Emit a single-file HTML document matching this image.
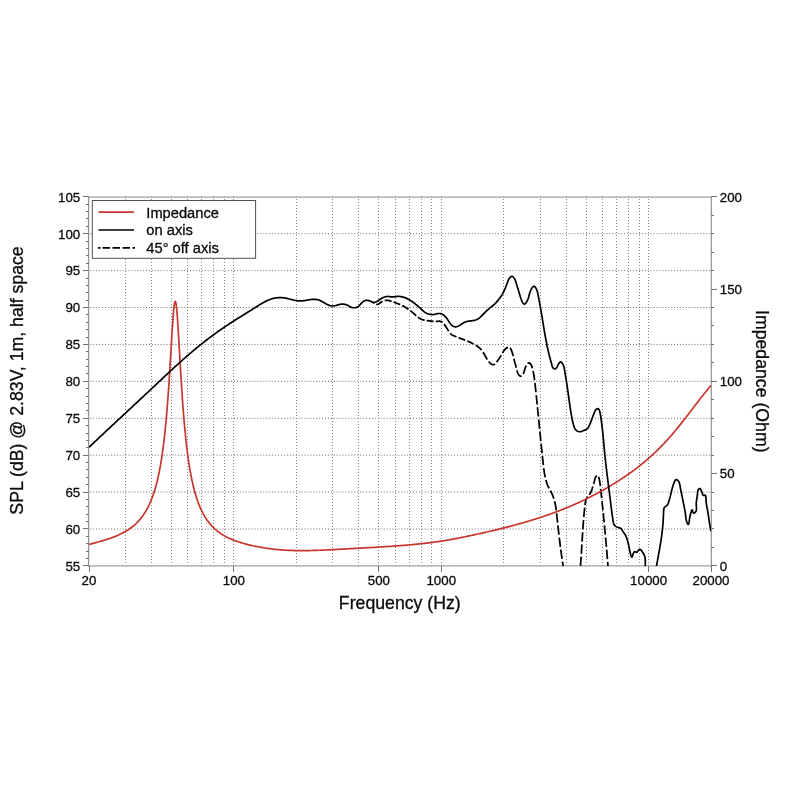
<!DOCTYPE html>
<html lang="en"><head><meta charset="utf-8"><title>Frequency response</title>
<style>html,body{margin:0;padding:0;background:#fff}body{width:800px;height:800px;overflow:hidden}svg{display:block}text{font-family:"Liberation Sans",sans-serif;fill:#0a0a0a;stroke:#0a0a0a;stroke-width:0.3px;stroke-linejoin:round}</style></head><body>
<svg width="800" height="800" viewBox="0 0 800 800">
<rect width="800" height="800" fill="#fff"/>
<defs><clipPath id="c"><rect x="89.0" y="196.8" width="622.0" height="369.10"/></clipPath></defs>
<g stroke="#8a8a8a" stroke-width="1" stroke-dasharray="1 2" fill="none">
<line x1="125.50" y1="196" x2="125.50" y2="565.9"/>
<line x1="151.50" y1="196" x2="151.50" y2="565.9"/>
<line x1="171.50" y1="196" x2="171.50" y2="565.9"/>
<line x1="187.50" y1="196" x2="187.50" y2="565.9"/>
<line x1="201.50" y1="196" x2="201.50" y2="565.9"/>
<line x1="213.50" y1="196" x2="213.50" y2="565.9"/>
<line x1="224.50" y1="196" x2="224.50" y2="565.9"/>
<line x1="233.50" y1="196" x2="233.50" y2="565.9"/>
<line x1="296.50" y1="196" x2="296.50" y2="565.9"/>
<line x1="332.50" y1="196" x2="332.50" y2="565.9"/>
<line x1="358.50" y1="196" x2="358.50" y2="565.9"/>
<line x1="378.50" y1="196" x2="378.50" y2="565.9"/>
<line x1="395.50" y1="196" x2="395.50" y2="565.9"/>
<line x1="409.50" y1="196" x2="409.50" y2="565.9"/>
<line x1="421.50" y1="196" x2="421.50" y2="565.9"/>
<line x1="431.50" y1="196" x2="431.50" y2="565.9"/>
<line x1="441.50" y1="196" x2="441.50" y2="565.9"/>
<line x1="503.50" y1="196" x2="503.50" y2="565.9"/>
<line x1="540.50" y1="196" x2="540.50" y2="565.9"/>
<line x1="566.50" y1="196" x2="566.50" y2="565.9"/>
<line x1="586.50" y1="196" x2="586.50" y2="565.9"/>
<line x1="602.50" y1="196" x2="602.50" y2="565.9"/>
<line x1="616.50" y1="196" x2="616.50" y2="565.9"/>
<line x1="628.50" y1="196" x2="628.50" y2="565.9"/>
<line x1="639.50" y1="196" x2="639.50" y2="565.9"/>
<line x1="648.50" y1="196" x2="648.50" y2="565.9"/>
<line x1="90.33" y1="528.99" x2="711.0" y2="528.99" stroke-dasharray="1 1.9333" stroke="#6c6c6c"/>
<line x1="90.33" y1="492.08" x2="711.0" y2="492.08" stroke-dasharray="1 1.9333" stroke="#6c6c6c"/>
<line x1="90.33" y1="455.17" x2="711.0" y2="455.17" stroke-dasharray="1 1.9333" stroke="#6c6c6c"/>
<line x1="90.33" y1="418.26" x2="711.0" y2="418.26" stroke-dasharray="1 1.9333" stroke="#6c6c6c"/>
<line x1="90.33" y1="381.35" x2="711.0" y2="381.35" stroke-dasharray="1 1.9333" stroke="#6c6c6c"/>
<line x1="90.33" y1="344.44" x2="711.0" y2="344.44" stroke-dasharray="1 1.9333" stroke="#6c6c6c"/>
<line x1="90.33" y1="307.53" x2="711.0" y2="307.53" stroke-dasharray="1 1.9333" stroke="#6c6c6c"/>
<line x1="90.33" y1="270.62" x2="711.0" y2="270.62" stroke-dasharray="1 1.9333" stroke="#6c6c6c"/>
<line x1="90.33" y1="233.71" x2="711.0" y2="233.71" stroke-dasharray="1 1.9333" stroke="#6c6c6c"/>
</g>
<g fill="none" stroke-width="1.0">
<line x1="88.7" y1="196.5" x2="88.7" y2="566.5500000000001" stroke="#7c7c80"/>
<line x1="711.25" y1="196.5" x2="711.25" y2="566.5500000000001" stroke="#7c7c80"/>
<line x1="88.2" y1="197.1" x2="711.75" y2="197.1" stroke="#a2a2a4" stroke-width="1.3"/>
<line x1="88.2" y1="565.95" x2="711.75" y2="565.95" stroke="#a2a2a4" stroke-width="1.3"/>
<g stroke-width="1" stroke="#707074">
<line x1="83.00" y1="565.50" x2="88.7" y2="565.50"/>
<line x1="86.00" y1="558.50" x2="88.7" y2="558.50"/>
<line x1="86.00" y1="551.50" x2="88.7" y2="551.50"/>
<line x1="86.00" y1="543.50" x2="88.7" y2="543.50"/>
<line x1="86.00" y1="536.50" x2="88.7" y2="536.50"/>
<line x1="83.00" y1="528.50" x2="88.7" y2="528.50"/>
<line x1="86.00" y1="521.50" x2="88.7" y2="521.50"/>
<line x1="86.00" y1="514.50" x2="88.7" y2="514.50"/>
<line x1="86.00" y1="506.50" x2="88.7" y2="506.50"/>
<line x1="86.00" y1="499.50" x2="88.7" y2="499.50"/>
<line x1="83.00" y1="492.50" x2="88.7" y2="492.50"/>
<line x1="86.00" y1="484.50" x2="88.7" y2="484.50"/>
<line x1="86.00" y1="477.50" x2="88.7" y2="477.50"/>
<line x1="86.00" y1="469.50" x2="88.7" y2="469.50"/>
<line x1="86.00" y1="462.50" x2="88.7" y2="462.50"/>
<line x1="83.00" y1="455.50" x2="88.7" y2="455.50"/>
<line x1="86.00" y1="447.50" x2="88.7" y2="447.50"/>
<line x1="86.00" y1="440.50" x2="88.7" y2="440.50"/>
<line x1="86.00" y1="433.50" x2="88.7" y2="433.50"/>
<line x1="86.00" y1="425.50" x2="88.7" y2="425.50"/>
<line x1="83.00" y1="418.50" x2="88.7" y2="418.50"/>
<line x1="86.00" y1="410.50" x2="88.7" y2="410.50"/>
<line x1="86.00" y1="403.50" x2="88.7" y2="403.50"/>
<line x1="86.00" y1="396.50" x2="88.7" y2="396.50"/>
<line x1="86.00" y1="388.50" x2="88.7" y2="388.50"/>
<line x1="83.00" y1="381.50" x2="88.7" y2="381.50"/>
<line x1="86.00" y1="373.50" x2="88.7" y2="373.50"/>
<line x1="86.00" y1="366.50" x2="88.7" y2="366.50"/>
<line x1="86.00" y1="359.50" x2="88.7" y2="359.50"/>
<line x1="86.00" y1="351.50" x2="88.7" y2="351.50"/>
<line x1="83.00" y1="344.50" x2="88.7" y2="344.50"/>
<line x1="86.00" y1="337.50" x2="88.7" y2="337.50"/>
<line x1="86.00" y1="329.50" x2="88.7" y2="329.50"/>
<line x1="86.00" y1="322.50" x2="88.7" y2="322.50"/>
<line x1="86.00" y1="314.50" x2="88.7" y2="314.50"/>
<line x1="83.00" y1="307.50" x2="88.7" y2="307.50"/>
<line x1="86.00" y1="300.50" x2="88.7" y2="300.50"/>
<line x1="86.00" y1="292.50" x2="88.7" y2="292.50"/>
<line x1="86.00" y1="285.50" x2="88.7" y2="285.50"/>
<line x1="86.00" y1="278.50" x2="88.7" y2="278.50"/>
<line x1="83.00" y1="270.50" x2="88.7" y2="270.50"/>
<line x1="86.00" y1="263.50" x2="88.7" y2="263.50"/>
<line x1="86.00" y1="255.50" x2="88.7" y2="255.50"/>
<line x1="86.00" y1="248.50" x2="88.7" y2="248.50"/>
<line x1="86.00" y1="241.50" x2="88.7" y2="241.50"/>
<line x1="83.00" y1="233.50" x2="88.7" y2="233.50"/>
<line x1="86.00" y1="226.50" x2="88.7" y2="226.50"/>
<line x1="86.00" y1="218.50" x2="88.7" y2="218.50"/>
<line x1="86.00" y1="211.50" x2="88.7" y2="211.50"/>
<line x1="86.00" y1="204.50" x2="88.7" y2="204.50"/>
<line x1="83.00" y1="196.50" x2="88.7" y2="196.50"/>
<line x1="711.25" y1="565.50" x2="716.95" y2="565.50"/>
<line x1="711.25" y1="547.50" x2="713.95" y2="547.50"/>
<line x1="711.25" y1="528.50" x2="713.95" y2="528.50"/>
<line x1="711.25" y1="510.50" x2="713.95" y2="510.50"/>
<line x1="711.25" y1="492.50" x2="713.95" y2="492.50"/>
<line x1="711.25" y1="473.50" x2="716.95" y2="473.50"/>
<line x1="711.25" y1="455.50" x2="713.95" y2="455.50"/>
<line x1="711.25" y1="436.50" x2="713.95" y2="436.50"/>
<line x1="711.25" y1="418.50" x2="713.95" y2="418.50"/>
<line x1="711.25" y1="399.50" x2="713.95" y2="399.50"/>
<line x1="711.25" y1="381.50" x2="716.95" y2="381.50"/>
<line x1="711.25" y1="362.50" x2="713.95" y2="362.50"/>
<line x1="711.25" y1="344.50" x2="713.95" y2="344.50"/>
<line x1="711.25" y1="325.50" x2="713.95" y2="325.50"/>
<line x1="711.25" y1="307.50" x2="713.95" y2="307.50"/>
<line x1="711.25" y1="289.50" x2="716.95" y2="289.50"/>
<line x1="711.25" y1="270.50" x2="713.95" y2="270.50"/>
<line x1="711.25" y1="252.50" x2="713.95" y2="252.50"/>
<line x1="711.25" y1="233.50" x2="713.95" y2="233.50"/>
<line x1="711.25" y1="215.50" x2="713.95" y2="215.50"/>
<line x1="711.25" y1="196.50" x2="716.95" y2="196.50"/>
<line x1="89.50" y1="565.95" x2="89.50" y2="571.95"/>
<line x1="233.50" y1="565.95" x2="233.50" y2="571.95"/>
<line x1="378.50" y1="565.95" x2="378.50" y2="571.95"/>
<line x1="441.50" y1="565.95" x2="441.50" y2="571.95"/>
<line x1="648.50" y1="565.95" x2="648.50" y2="571.95"/>
<line x1="711.50" y1="565.95" x2="711.50" y2="571.95"/>
</g></g>
<g clip-path="url(#c)" fill="none" stroke-linejoin="round">
<path d="M373.10,302.50 L373.40,302.72 L373.75,302.96 L374.12,303.21 L374.25,303.30 M376.29,304.26 L376.73,304.36 L377.17,304.40 L377.60,304.37 L378.00,304.27 L378.39,304.11 L378.77,303.89 L379.14,303.63 L379.50,303.35 L379.87,303.05 L380.23,302.75 L380.60,302.45 L380.99,302.17 L381.37,301.91 L381.77,301.67 L382.18,301.44 L382.59,301.24 L382.59,301.24 M384.71,300.51 L385.14,300.43 L385.58,300.36 L386.02,300.32 L386.46,300.30 L386.89,300.31 L387.33,300.33 L387.77,300.37 L388.20,300.43 L388.64,300.51 L389.08,300.60 L389.51,300.70 L389.95,300.81 L390.39,300.94 L390.82,301.07 L391.25,301.22 L391.54,301.32 M393.56,302.05 L393.99,302.21 L394.42,302.37 L394.85,302.53 L395.28,302.69 L395.70,302.85 L396.13,303.00 L396.55,303.16 L396.98,303.32 L397.40,303.48 L397.82,303.64 L398.24,303.80 L398.66,303.97 L399.07,304.13 L399.49,304.30 L399.90,304.47 L400.17,304.59 M402.20,305.50 L402.60,305.70 L403.00,305.90 L403.40,306.11 L403.79,306.32 L404.18,306.53 L404.57,306.75 L404.95,306.98 L405.34,307.20 L405.72,307.44 L406.10,307.67 L406.48,307.91 L406.86,308.16 L407.23,308.40 L407.60,308.65 L407.97,308.91 L408.34,309.17 L408.59,309.34 M410.39,310.69 L410.75,310.97 L411.10,311.26 L411.45,311.54 L411.80,311.83 L412.15,312.12 L412.50,312.41 L412.85,312.71 L413.19,313.00 L413.53,313.30 L413.87,313.60 L414.21,313.91 L414.55,314.21 L414.88,314.51 L415.22,314.82 L415.56,315.12 L415.90,315.42 L416.24,315.72 L416.24,315.72 M417.96,317.14 L418.32,317.41 L418.68,317.67 L419.04,317.92 L419.41,318.16 L419.79,318.39 L420.17,318.61 L420.56,318.82 L420.95,319.02 L421.35,319.20 L421.76,319.37 L422.18,319.53 L422.60,319.67 L423.03,319.81 L423.46,319.93 L423.90,320.05 L424.34,320.15 L424.64,320.22 M426.61,320.57 L427.06,320.63 L427.52,320.69 L427.98,320.74 L428.44,320.80 L428.90,320.85 L429.35,320.89 L429.81,320.94 L430.26,320.98 L430.71,321.03 L431.15,321.08 L431.60,321.12 L432.04,321.17 L432.47,321.22 L432.91,321.26 L433.34,321.30 L433.63,321.33 M435.69,321.40 L436.15,321.39 L436.61,321.36 L437.08,321.32 L437.55,321.28 L438.02,321.25 L438.49,321.22 L438.95,321.22 L439.40,321.23 L439.85,321.27 L440.27,321.35 L440.69,321.47 L441.09,321.62 L441.48,321.81 L441.85,322.02 L442.21,322.26 L442.44,322.44 M444.04,324.04 L444.33,324.41 L444.61,324.78 L444.89,325.17 L445.15,325.56 L445.41,325.95 L445.66,326.34 L445.91,326.72 L446.15,327.11 L446.38,327.49 L446.62,327.88 L446.85,328.26 L447.08,328.64 L447.31,329.02 L447.54,329.39 L447.77,329.77 L448.01,330.14 L448.25,330.52 L448.49,330.89 L448.66,331.14 M450.23,333.18 L450.54,333.51 L450.86,333.83 L451.19,334.14 L451.53,334.43 L451.89,334.70 L452.26,334.95 L452.64,335.18 L453.03,335.39 L453.43,335.59 L453.84,335.78 L454.25,335.96 L454.66,336.13 L455.08,336.30 L455.50,336.47 L455.92,336.64 L456.34,336.80 L456.48,336.86 M458.58,337.67 L459.00,337.83 L459.43,337.99 L459.85,338.15 L460.27,338.31 L460.69,338.47 L461.11,338.62 L461.54,338.78 L461.96,338.94 L462.38,339.10 L462.80,339.26 L463.22,339.42 L463.64,339.58 L464.06,339.74 L464.48,339.91 L464.90,340.07 L465.18,340.18 M467.27,341.02 L467.68,341.20 L468.10,341.37 L468.51,341.55 L468.92,341.73 L469.33,341.91 L469.74,342.09 L470.15,342.28 L470.56,342.47 L470.96,342.66 L471.37,342.86 L471.77,343.05 L472.17,343.25 L472.57,343.46 L472.97,343.67 L473.37,343.88 L473.76,344.09 L473.76,344.09 M475.72,345.22 L476.10,345.45 L476.48,345.70 L476.86,345.94 L477.23,346.20 L477.60,346.45 L477.97,346.72 L478.33,346.99 L478.68,347.26 L479.03,347.55 L479.37,347.83 L479.71,348.13 L480.04,348.43 L480.36,348.74 L480.67,349.06 L480.98,349.39 L481.28,349.72 L481.56,350.06 L481.56,350.06 M483.03,352.15 L483.26,352.54 L483.49,352.94 L483.72,353.34 L483.94,353.73 L484.16,354.13 L484.38,354.53 L484.60,354.93 L484.82,355.33 L485.04,355.72 L485.27,356.11 L485.49,356.50 L485.72,356.89 L485.95,357.27 L486.19,357.65 L486.42,358.03 L486.66,358.40 L486.90,358.78 L487.14,359.15 L487.39,359.53 L487.39,359.53 M488.75,361.52 L489.02,361.89 L489.31,362.25 L489.60,362.59 L489.91,362.93 L490.24,363.25 L490.58,363.55 L490.95,363.83 L491.34,364.08 L491.76,364.31 L492.19,364.50 L492.62,364.64 L493.05,364.71 L493.47,364.71 L493.87,364.63 L494.26,364.46 L494.62,364.23 L494.97,363.95 L494.97,363.95 M496.53,362.12 L496.82,361.75 L497.10,361.37 L497.38,361.00 L497.65,360.63 L497.92,360.26 L498.18,359.90 L498.44,359.53 L498.70,359.17 L498.95,358.81 L499.19,358.44 L499.44,358.08 L499.68,357.72 L499.92,357.35 L500.15,356.99 L500.38,356.62 L500.62,356.25 L500.85,355.88 L501.08,355.50 L501.23,355.25 M502.53,353.04 L502.76,352.64 L503.00,352.23 L503.24,351.82 L503.48,351.42 L503.73,351.02 L503.99,350.62 L504.26,350.24 L504.53,349.87 L504.82,349.52 L505.12,349.18 L505.44,348.87 L505.77,348.57 L506.11,348.31 L506.48,348.07 L506.86,347.86 L507.26,347.68 L507.69,347.54 L507.98,347.47 M509.99,347.90 L510.30,348.22 L510.57,348.60 L510.83,349.01 L511.05,349.46 L511.26,349.91 L511.46,350.36 L511.64,350.81 L511.81,351.25 L511.96,351.69 L512.11,352.12 L512.25,352.56 L512.37,352.99 L512.50,353.42 L512.61,353.84 L512.72,354.27 L512.83,354.70 L512.94,355.12 L513.05,355.55 L513.16,355.97 L513.19,356.12 M513.86,358.69 L513.98,359.12 L514.09,359.55 L514.21,359.99 L514.32,360.42 L514.44,360.85 L514.55,361.29 L514.67,361.72 L514.79,362.16 L514.91,362.59 L515.02,363.03 L515.14,363.46 L515.26,363.90 L515.37,364.34 L515.49,364.77 L515.61,365.21 L515.73,365.65 L515.84,366.09 L515.96,366.52 L516.07,366.96 L516.19,367.40 L516.27,367.69 M516.95,370.33 L517.06,370.76 L517.17,371.20 L517.30,371.64 L517.43,372.07 L517.58,372.50 L517.74,372.92 L517.92,373.34 L518.12,373.75 L518.34,374.15 L518.59,374.54 L518.87,374.93 L519.18,375.29 L519.52,375.62 L519.87,375.89 L520.24,376.07 L520.63,376.14 L521.02,376.10 L521.41,375.94 L521.54,375.87 M523.20,374.05 L523.41,373.64 L523.60,373.22 L523.77,372.78 L523.91,372.34 L524.05,371.90 L524.18,371.46 L524.30,371.02 L524.41,370.58 L524.53,370.15 L524.65,369.73 L524.78,369.31 L524.91,368.89 L525.04,368.48 L525.19,368.06 L525.34,367.65 L525.50,367.23 L525.67,366.81 L525.85,366.39 L526.04,365.95 L526.18,365.66 M527.59,363.51 L527.93,363.25 L528.30,363.07 L528.70,362.98 L529.11,362.97 L529.51,363.06 L529.88,363.23 L530.21,363.49 L530.51,363.81 L530.78,364.18 L531.02,364.59 L531.25,365.03 L531.45,365.48 L531.64,365.93 L531.81,366.37 L531.98,366.82 L532.13,367.26 L532.27,367.70 L532.40,368.14 L532.44,368.29 M533.07,370.89 L533.16,371.33 L533.24,371.76 L533.33,372.20 L533.41,372.64 L533.49,373.07 L533.57,373.51 L533.65,373.95 L533.73,374.39 L533.80,374.83 L533.87,375.27 L533.95,375.71 L534.02,376.15 L534.08,376.59 L534.15,377.03 L534.22,377.48 L534.28,377.92 L534.35,378.36 L534.41,378.81 L534.47,379.25 L534.53,379.70 L534.59,380.14 L534.59,380.14 M534.92,382.82 L534.97,383.27 L535.02,383.72 L535.08,384.16 L535.13,384.61 L535.18,385.06 L535.23,385.51 L535.27,385.95 L535.32,386.40 L535.37,386.85 L535.42,387.30 L535.47,387.75 L535.52,388.20 L535.56,388.65 L535.61,389.09 L535.66,389.54 L535.71,389.99 L535.75,390.44 L535.80,390.89 L535.85,391.34 L535.89,391.78 L535.94,392.23 L535.94,392.23 M536.24,395.07 L536.28,395.52 L536.33,395.97 L536.37,396.42 L536.42,396.86 L536.47,397.31 L536.51,397.76 L536.56,398.21 L536.60,398.66 L536.65,399.10 L536.69,399.55 L536.74,400.00 L536.79,400.45 L536.83,400.90 L536.88,401.34 L536.92,401.79 L536.97,402.24 L537.01,402.69 L537.06,403.14 L537.10,403.58 L537.15,404.03 L537.19,404.48 L537.19,404.48 M537.46,407.17 L537.51,407.61 L537.55,408.06 L537.59,408.51 L537.64,408.96 L537.68,409.41 L537.73,409.85 L537.77,410.30 L537.82,410.75 L537.86,411.20 L537.91,411.64 L537.95,412.09 L537.99,412.54 L538.04,412.99 L538.08,413.43 L538.13,413.88 L538.17,414.33 L538.21,414.78 L538.26,415.23 L538.30,415.67 L538.35,416.12 L538.39,416.57 L538.39,416.57 M538.67,419.40 L538.71,419.85 L538.76,420.30 L538.80,420.74 L538.84,421.19 L538.89,421.64 L538.93,422.09 L538.98,422.54 L539.02,422.98 L539.06,423.43 L539.11,423.88 L539.15,424.32 L539.20,424.77 L539.24,425.22 L539.28,425.67 L539.33,426.11 L539.37,426.56 L539.42,427.01 L539.46,427.46 L539.50,427.90 L539.55,428.35 L539.59,428.80 L539.59,428.80 M539.86,431.48 L539.90,431.93 L539.95,432.38 L539.99,432.83 L540.04,433.27 L540.08,433.72 L540.12,434.17 L540.17,434.62 L540.21,435.06 L540.26,435.51 L540.30,435.96 L540.35,436.41 L540.39,436.85 L540.44,437.30 L540.48,437.75 L540.53,438.20 L540.57,438.64 L540.62,439.09 L540.66,439.54 L540.71,439.99 L540.75,440.43 L540.80,440.88 L540.81,441.03 M541.08,443.71 L541.13,444.16 L541.18,444.61 L541.22,445.06 L541.27,445.50 L541.31,445.95 L541.36,446.40 L541.40,446.85 L541.45,447.29 L541.50,447.74 L541.54,448.19 L541.59,448.64 L541.64,449.08 L541.68,449.53 L541.73,449.98 L541.78,450.43 L541.82,450.88 L541.87,451.32 L541.92,451.77 L541.96,452.22 L542.01,452.67 L542.06,453.11 L542.06,453.11 M542.34,455.80 L542.39,456.25 L542.44,456.69 L542.49,457.14 L542.54,457.59 L542.58,458.04 L542.63,458.49 L542.68,458.93 L542.73,459.38 L542.78,459.83 L542.83,460.28 L542.88,460.72 L542.93,461.17 L542.97,461.62 L543.02,462.07 L543.07,462.52 L543.12,462.96 L543.17,463.41 L543.22,463.86 L543.27,464.31 L543.32,464.75 L543.38,465.20 L543.38,465.20 M543.72,468.04 L543.78,468.48 L543.83,468.93 L543.89,469.37 L543.95,469.82 L544.02,470.27 L544.08,470.71 L544.15,471.16 L544.21,471.60 L544.28,472.05 L544.35,472.49 L544.43,472.93 L544.50,473.38 L544.58,473.82 L544.65,474.26 L544.74,474.70 L544.82,475.15 L544.90,475.59 L544.99,476.03 L545.08,476.47 L545.17,476.91 L545.27,477.35 L545.27,477.35 M545.90,479.97 L546.01,480.40 L546.13,480.84 L546.25,481.27 L546.38,481.70 L546.51,482.14 L546.64,482.56 L546.78,482.99 L546.93,483.42 L547.07,483.85 L547.23,484.27 L547.39,484.69 L547.55,485.11 L547.73,485.52 L547.90,485.94 L548.09,486.35 L548.28,486.75 L548.48,487.16 L548.68,487.56 L548.89,487.96 L549.10,488.36 L549.10,488.36 M550.33,490.61 L550.55,491.00 L550.77,491.40 L550.98,491.80 L551.19,492.20 L551.39,492.60 L551.59,493.00 L551.78,493.41 L551.97,493.82 L552.16,494.23 L552.34,494.64 L552.51,495.05 L552.69,495.47 L552.85,495.88 L553.01,496.30 L553.17,496.72 L553.33,497.14 L553.47,497.57 L553.62,497.99 L553.76,498.42 L553.85,498.70 M554.60,501.29 L554.71,501.73 L554.82,502.17 L554.92,502.60 L555.02,503.04 L555.12,503.48 L555.21,503.92 L555.30,504.36 L555.39,504.80 L555.47,505.24 L555.55,505.69 L555.63,506.13 L555.70,506.57 L555.78,507.02 L555.85,507.46 L555.91,507.91 L555.98,508.35 L556.04,508.80 L556.10,509.25 L556.16,509.69 L556.22,510.14 L556.26,510.44 M556.59,513.27 L556.64,513.72 L556.69,514.17 L556.74,514.62 L556.79,515.06 L556.84,515.51 L556.89,515.96 L556.93,516.41 L556.98,516.85 L557.03,517.30 L557.08,517.75 L557.13,518.20 L557.18,518.65 L557.22,519.09 L557.27,519.54 L557.32,519.99 L557.37,520.44 L557.42,520.88 L557.46,521.33 L557.51,521.78 L557.56,522.23 L557.61,522.67 L557.61,522.67 M557.89,525.36 L557.94,525.81 L557.99,526.25 L558.03,526.70 L558.08,527.15 L558.13,527.59 L558.18,528.04 L558.23,528.49 L558.27,528.94 L558.32,529.38 L558.37,529.83 L558.42,530.28 L558.47,530.72 L558.52,531.17 L558.57,531.62 L558.62,532.06 L558.67,532.51 L558.72,532.96 L558.77,533.41 L558.82,533.85 L558.87,534.30 L558.92,534.75 L558.92,534.75 M559.25,537.58 L559.30,538.02 L559.36,538.47 L559.41,538.91 L559.47,539.36 L559.52,539.81 L559.57,540.25 L559.63,540.70 L559.68,541.15 L559.74,541.59 L559.80,542.04 L559.85,542.49 L559.91,542.93 L559.96,543.38 L560.02,543.83 L560.08,544.27 L560.14,544.72 L560.19,545.16 L560.25,545.61 L560.31,546.06 L560.37,546.50 L560.43,546.95 L560.43,546.95 M560.78,549.62 L560.84,550.07 L560.90,550.52 L560.96,550.96 L561.03,551.41 L561.09,551.85 L561.15,552.30 L561.21,552.74 L561.27,553.19 L561.33,553.64 L561.40,554.08 L561.46,554.53 L561.52,554.97 L561.58,555.42 L561.65,555.86 L561.71,556.31 L561.77,556.76 L561.84,557.20 L561.90,557.65 L561.96,558.09 L562.03,558.54 L562.09,558.98 L562.09,558.98 M562.48,561.65 L562.55,562.10 L562.61,562.54 L562.68,562.99 L562.75,563.43 L562.81,563.88 L562.88,564.32 L562.95,564.77 L563.01,565.21 L563.08,565.66 L563.15,566.10 L563.21,566.55 L563.28,566.99 L563.35,567.44 L563.42,567.88 L563.48,568.33 L563.55,568.77 L563.62,569.22 L563.69,569.66 L563.76,570.11 L563.82,570.55 L563.89,571.00 L563.89,571.00 M564.31,573.66 L564.38,574.11 L564.45,574.55 L564.51,575.00 L564.51,575.00" stroke="#000" stroke-width="1.75"/>
<path d="M579.64,575.00 L579.69,574.55 L579.73,574.11 L579.78,573.66 L579.82,573.21 L579.87,572.76 L579.91,572.31 L579.95,571.86 L579.99,571.41 L580.04,570.96 L580.08,570.52 L580.12,570.07 L580.16,569.62 L580.20,569.17 L580.22,568.87 M580.45,566.18 L580.49,565.73 L580.52,565.28 L580.56,564.83 L580.59,564.38 L580.63,563.94 L580.66,563.49 L580.70,563.04 L580.73,562.59 L580.77,562.14 L580.80,561.69 L580.83,561.24 L580.86,560.80 L580.90,560.35 L580.93,559.90 L580.96,559.45 L580.99,559.00 L581.02,558.55 L581.05,558.11 L581.08,557.66 L581.11,557.21 L581.15,556.76 L581.16,556.61 M581.33,553.92 L581.36,553.47 L581.39,553.02 L581.42,552.58 L581.44,552.13 L581.47,551.68 L581.50,551.23 L581.53,550.78 L581.56,550.33 L581.58,549.89 L581.61,549.44 L581.64,548.99 L581.67,548.54 L581.69,548.09 L581.72,547.64 L581.75,547.19 L581.77,546.75 L581.80,546.30 L581.83,545.85 L581.85,545.40 L581.88,544.95 L581.91,544.50 L581.92,544.36 M582.07,541.67 L582.10,541.22 L582.13,540.77 L582.15,540.32 L582.18,539.87 L582.21,539.42 L582.23,538.97 L582.26,538.53 L582.29,538.08 L582.32,537.63 L582.34,537.18 L582.37,536.73 L582.40,536.28 L582.43,535.84 L582.45,535.39 L582.48,534.94 L582.51,534.49 L582.54,534.04 L582.56,533.59 L582.59,533.15 L582.62,532.70 L582.65,532.25 L582.65,532.25 M582.84,529.41 L582.87,528.96 L582.90,528.51 L582.93,528.06 L582.96,527.61 L582.99,527.17 L583.02,526.72 L583.05,526.27 L583.09,525.82 L583.12,525.37 L583.15,524.92 L583.19,524.47 L583.22,524.02 L583.25,523.58 L583.29,523.13 L583.32,522.68 L583.36,522.23 L583.39,521.78 L583.43,521.33 L583.46,520.88 L583.50,520.44 L583.54,519.99 L583.54,519.99 M583.78,517.14 L583.82,516.69 L583.86,516.25 L583.90,515.80 L583.94,515.35 L583.98,514.90 L584.02,514.45 L584.07,514.00 L584.11,513.55 L584.15,513.10 L584.20,512.65 L584.24,512.21 L584.29,511.76 L584.33,511.31 L584.38,510.86 L584.43,510.41 L584.47,509.96 L584.52,509.51 L584.57,509.06 L584.62,508.61 L584.67,508.16 L584.72,507.71 L584.72,507.71 M585.03,505.02 L585.09,504.57 L585.15,504.12 L585.20,503.67 L585.27,503.22 L585.34,502.78 L585.41,502.34 L585.50,501.90 L585.59,501.46 L585.69,501.03 L585.81,500.60 L585.94,500.18 L586.08,499.76 L586.23,499.35 L586.41,498.95 L586.60,498.55 L586.81,498.16 L587.04,497.77 L587.29,497.40 L587.55,497.03 L587.82,496.66 L587.82,496.66 M589.34,494.71 L589.61,494.34 L589.87,493.96 L590.12,493.58 L590.35,493.18 L590.57,492.78 L590.77,492.37 L590.96,491.96 L591.14,491.54 L591.31,491.12 L591.48,490.70 L591.63,490.27 L591.77,489.85 L591.91,489.42 L592.05,489.00 L592.18,488.57 L592.31,488.15 L592.44,487.74 L592.57,487.32 L592.69,486.92 L592.82,486.51 L592.82,486.51 M593.62,483.90 L593.75,483.47 L593.88,483.03 L594.00,482.58 L594.13,482.12 L594.26,481.64 L594.38,481.14 L594.51,480.63 L594.64,480.12 L594.77,479.60 L594.92,479.09 L595.07,478.59 L595.23,478.11 L595.41,477.65 L595.60,477.23 L595.81,476.85 L596.04,476.52 L596.30,476.23 L596.58,476.01 L596.88,475.86 L596.88,475.86 M598.56,476.93 L598.74,477.35 L598.89,477.81 L599.04,478.30 L599.17,478.82 L599.29,479.34 L599.40,479.86 L599.50,480.38 L599.60,480.88 L599.69,481.38 L599.78,481.87 L599.86,482.35 L599.93,482.82 L600.01,483.29 L600.07,483.75 L600.14,484.21 L600.20,484.66 L600.25,485.10 L600.31,485.54 L600.36,485.98 L600.37,486.13 M600.66,488.86 L600.71,489.29 L600.75,489.72 L600.79,490.16 L600.84,490.59 L600.88,491.02 L600.93,491.46 L600.97,491.89 L601.02,492.33 L601.07,492.77 L601.11,493.21 L601.16,493.64 L601.20,494.08 L601.25,494.52 L601.30,494.96 L601.34,495.40 L601.39,495.85 L601.44,496.29 L601.48,496.73 L601.53,497.17 L601.58,497.62 L601.62,498.06 L601.64,498.21 M601.94,501.03 L601.99,501.48 L602.04,501.93 L602.08,502.38 L602.13,502.83 L602.18,503.27 L602.23,503.72 L602.28,504.17 L602.32,504.62 L602.37,505.07 L602.42,505.52 L602.47,505.97 L602.51,506.42 L602.56,506.87 L602.61,507.32 L602.66,507.77 L602.71,508.22 L602.75,508.67 L602.80,509.12 L602.85,509.57 L602.89,510.03 L602.93,510.33 M603.22,513.18 L603.27,513.63 L603.32,514.08 L603.36,514.53 L603.41,514.98 L603.45,515.43 L603.50,515.88 L603.55,516.33 L603.59,516.78 L603.64,517.23 L603.68,517.68 L603.73,518.12 L603.77,518.57 L603.82,519.02 L603.86,519.47 L603.91,519.92 L603.95,520.37 L604.00,520.82 L604.04,521.27 L604.08,521.72 L604.13,522.16 L604.16,522.46 M604.43,525.30 L604.48,525.75 L604.52,526.20 L604.56,526.64 L604.61,527.09 L604.65,527.54 L604.69,527.99 L604.73,528.44 L604.78,528.88 L604.82,529.33 L604.86,529.78 L604.90,530.23 L604.94,530.67 L604.99,531.12 L605.03,531.57 L605.07,532.01 L605.11,532.46 L605.15,532.91 L605.19,533.36 L605.24,533.80 L605.28,534.25 L605.32,534.70 L605.32,534.70 M605.58,537.53 L605.62,537.98 L605.66,538.42 L605.70,538.87 L605.74,539.32 L605.78,539.76 L605.82,540.21 L605.86,540.66 L605.90,541.10 L605.94,541.55 L605.98,542.00 L606.02,542.44 L606.05,542.89 L606.09,543.34 L606.13,543.78 L606.17,544.23 L606.21,544.68 L606.25,545.12 L606.29,545.57 L606.33,546.02 L606.37,546.47 L606.41,546.91 L606.41,546.91 M606.64,549.59 L606.67,550.04 L606.71,550.49 L606.75,550.94 L606.79,551.38 L606.82,551.83 L606.86,552.28 L606.90,552.72 L606.94,553.17 L606.97,553.62 L607.01,554.07 L607.05,554.51 L607.09,554.96 L607.12,555.41 L607.16,555.86 L607.20,556.30 L607.23,556.75 L607.27,557.20 L607.31,557.65 L607.34,558.09 L607.38,558.54 L607.42,558.99 L607.43,559.14 M607.65,561.83 L607.68,562.28 L607.72,562.72 L607.75,563.17 L607.79,563.62 L607.83,564.07 L607.86,564.52 L607.90,564.97 L607.93,565.42 L607.97,565.87 L608.00,566.32 L608.04,566.76 L608.07,567.21 L608.11,567.66 L608.15,568.11 L608.18,568.56 L608.22,569.01 L608.25,569.46 L608.29,569.91 L608.32,570.36 L608.36,570.81 L608.39,571.26 L608.39,571.26 M608.61,574.11 L608.64,574.57 L608.68,575.02 L608.68,575.02" stroke="#000" stroke-width="1.75"/>
<path d="M89.00,544.49 L90.00,544.21 L91.00,543.94 L92.00,543.67 L93.00,543.40 L94.00,543.13 L95.00,542.86 L96.00,542.58 L97.00,542.30 L98.00,542.02 L99.00,541.74 L100.00,541.46 L101.00,541.17 L102.00,540.88 L103.00,540.58 L104.00,540.28 L105.00,539.98 L106.00,539.66 L107.00,539.35 L108.00,539.02 L109.00,538.69 L110.00,538.35 L111.00,538.00 L112.00,537.64 L113.00,537.27 L114.00,536.89 L115.00,536.50 L116.00,536.09 L117.00,535.67 L118.00,535.24 L119.00,534.80 L120.00,534.33 L121.00,533.85 L122.00,533.35 L123.00,532.84 L124.00,532.30 L125.00,531.74 L126.00,531.15 L127.00,530.54 L128.00,529.91 L129.00,529.24 L130.00,528.54 L131.00,527.81 L132.00,527.05 L133.00,526.25 L134.00,525.41 L135.00,524.52 L136.00,523.59 L137.00,522.61 L138.00,521.58 L139.00,520.49 L140.00,519.34 L141.00,518.13 L142.00,516.84 L143.00,515.47 L144.00,514.02 L145.00,512.47 L146.00,510.83 L147.00,509.07 L148.00,507.19 L149.00,505.17 L150.00,503.01 L150.10,502.78 L150.20,502.55 L150.30,502.33 L150.40,502.09 L150.50,501.86 L150.60,501.63 L150.70,501.39 L150.80,501.16 L150.90,500.92 L151.00,500.68 L151.10,500.43 L151.20,500.19 L151.30,499.94 L151.40,499.69 L151.50,499.44 L151.60,499.19 L151.70,498.94 L151.80,498.68 L151.90,498.42 L152.00,498.16 L152.10,497.90 L152.20,497.63 L152.30,497.37 L152.40,497.10 L152.50,496.83 L152.60,496.55 L152.70,496.28 L152.80,496.00 L152.90,495.72 L153.00,495.44 L153.10,495.15 L153.20,494.87 L153.30,494.58 L153.40,494.29 L153.50,493.99 L153.60,493.70 L153.70,493.40 L153.80,493.10 L153.90,492.79 L154.00,492.49 L154.10,492.18 L154.20,491.87 L154.30,491.55 L154.40,491.23 L154.50,490.92 L154.60,490.59 L154.70,490.27 L154.80,489.94 L154.90,489.61 L155.00,489.27 L155.10,488.94 L155.20,488.60 L155.30,488.26 L155.40,487.91 L155.50,487.56 L155.60,487.21 L155.70,486.85 L155.80,486.50 L155.90,486.13 L156.00,485.77 L156.10,485.40 L156.20,485.03 L156.30,484.65 L156.40,484.28 L156.50,483.89 L156.60,483.51 L156.70,483.12 L156.80,482.73 L156.90,482.33 L157.00,481.93 L157.10,481.53 L157.20,481.12 L157.30,480.71 L157.40,480.29 L157.50,479.87 L157.60,479.45 L157.70,479.02 L157.80,478.59 L157.90,478.16 L158.00,477.72 L158.10,477.27 L158.20,476.82 L158.30,476.37 L158.40,475.91 L158.50,475.45 L158.60,474.98 L158.70,474.51 L158.80,474.03 L158.90,473.55 L159.00,473.07 L159.10,472.58 L159.20,472.08 L159.30,471.58 L159.40,471.07 L159.50,470.56 L159.60,470.04 L159.70,469.52 L159.80,468.99 L159.90,468.46 L160.00,467.92 L160.10,467.38 L160.20,466.83 L160.30,466.27 L160.40,465.71 L160.50,465.14 L160.60,464.57 L160.70,463.99 L160.80,463.40 L160.90,462.81 L161.00,462.21 L161.10,461.60 L161.20,460.99 L161.30,460.37 L161.40,459.74 L161.50,459.11 L161.60,458.47 L161.70,457.82 L161.80,457.17 L161.90,456.50 L162.00,455.84 L162.10,455.16 L162.20,454.47 L162.30,453.78 L162.40,453.08 L162.50,452.37 L162.60,451.65 L162.70,450.93 L162.80,450.19 L162.90,449.45 L163.00,448.70 L163.10,447.94 L163.20,447.17 L163.30,446.40 L163.40,445.61 L163.50,444.81 L163.60,444.01 L163.70,443.19 L163.80,442.37 L163.90,441.53 L164.00,440.69 L164.10,439.83 L164.20,438.97 L164.30,438.09 L164.40,437.21 L164.50,436.31 L164.60,435.40 L164.70,434.48 L164.80,433.55 L164.90,432.61 L165.00,431.66 L165.10,430.69 L165.20,429.72 L165.30,428.73 L165.40,427.73 L165.50,426.72 L165.60,425.69 L165.70,424.66 L165.80,423.61 L165.90,422.54 L166.00,421.47 L166.10,420.38 L166.20,419.28 L166.30,418.16 L166.40,417.04 L166.50,415.89 L166.60,414.74 L166.70,413.57 L166.80,412.38 L166.90,411.18 L167.00,409.97 L167.10,408.75 L167.20,407.50 L167.30,406.25 L167.40,404.98 L167.50,403.69 L167.60,402.39 L167.70,401.08 L167.80,399.75 L167.90,398.40 L168.00,397.04 L168.10,395.67 L168.20,394.28 L168.30,392.88 L168.40,391.46 L168.50,390.02 L168.60,388.57 L168.70,387.11 L168.80,385.63 L168.90,384.14 L169.00,382.64 L169.10,381.12 L169.20,379.58 L169.30,378.04 L169.40,376.48 L169.50,374.90 L169.60,373.32 L169.70,371.72 L169.80,370.11 L169.90,368.49 L170.00,366.86 L170.10,365.22 L170.20,363.57 L170.30,361.92 L170.40,360.25 L170.50,358.58 L170.60,356.90 L170.70,355.22 L170.80,353.53 L170.90,351.84 L171.00,350.15 L171.10,348.46 L171.20,346.76 L171.30,345.07 L171.40,343.39 L171.50,341.70 L171.60,340.03 L171.70,338.36 L171.80,336.70 L171.90,335.06 L172.00,333.43 L172.10,331.81 L172.20,330.21 L172.30,328.63 L172.40,327.07 L172.50,325.53 L172.60,324.03 L172.70,322.55 L172.80,321.10 L172.90,319.68 L173.00,318.30 L173.10,316.95 L173.20,315.65 L173.30,314.39 L173.40,313.17 L173.50,312.00 L173.60,310.89 L173.70,309.82 L173.80,308.81 L173.90,307.85 L174.00,306.96 L174.10,306.12 L174.20,305.35 L174.30,304.65 L174.40,304.00 L174.50,303.43 L174.60,302.93 L174.70,302.50 L174.80,302.14 L174.90,301.85 L175.00,301.64 L175.10,301.50 L175.20,301.44 L175.30,301.45 L175.40,301.54 L175.50,301.70 L175.60,301.94 L175.70,302.25 L175.80,302.64 L175.90,303.10 L176.00,303.62 L176.10,304.22 L176.20,304.89 L176.30,305.63 L176.40,306.43 L176.50,307.30 L176.60,308.23 L176.70,309.21 L176.80,310.26 L176.90,311.36 L177.00,312.52 L177.10,313.72 L177.20,314.98 L177.30,316.28 L177.40,317.62 L177.50,319.01 L177.60,320.43 L177.70,321.90 L177.80,323.39 L177.90,324.92 L178.00,326.47 L178.10,328.06 L178.20,329.67 L178.30,331.29 L178.40,332.94 L178.50,334.61 L178.60,336.30 L178.70,337.99 L178.80,339.70 L178.90,341.42 L179.00,343.15 L179.10,344.89 L179.20,346.63 L179.30,348.37 L179.40,350.12 L179.50,351.86 L179.60,353.61 L179.70,355.35 L179.80,357.09 L179.90,358.83 L180.00,360.56 L180.10,362.28 L180.20,364.00 L180.30,365.71 L180.40,367.41 L180.50,369.10 L180.60,370.78 L180.70,372.45 L180.80,374.11 L180.90,375.76 L181.00,377.39 L181.10,379.01 L181.20,380.62 L181.30,382.21 L181.40,383.79 L181.50,385.36 L181.60,386.91 L181.70,388.45 L181.80,389.97 L181.90,391.48 L182.00,392.97 L182.10,394.44 L182.20,395.90 L182.30,397.35 L182.40,398.78 L182.50,400.19 L182.60,401.59 L182.70,402.98 L182.80,404.34 L182.90,405.70 L183.00,407.03 L183.10,408.35 L183.20,409.66 L183.30,410.95 L183.40,412.23 L183.50,413.49 L183.60,414.73 L183.70,415.96 L183.80,417.18 L183.90,418.38 L184.00,419.57 L184.10,420.74 L184.20,421.90 L184.30,423.04 L184.40,424.17 L184.50,425.29 L184.60,426.39 L184.70,427.48 L184.80,428.56 L184.90,429.62 L185.00,430.67 L185.10,431.71 L185.20,432.74 L185.30,433.75 L185.40,434.75 L185.50,435.74 L185.60,436.71 L185.70,437.68 L185.80,438.63 L185.90,439.57 L186.00,440.50 L186.10,441.42 L186.20,442.32 L186.30,443.22 L186.40,444.10 L186.50,444.98 L186.60,445.84 L186.70,446.69 L186.80,447.54 L186.90,448.37 L187.00,449.19 L187.10,450.01 L187.20,450.81 L187.30,451.61 L187.40,452.39 L187.50,453.17 L187.60,453.93 L187.70,454.69 L187.80,455.44 L187.90,456.18 L188.00,456.91 L188.10,457.64 L188.20,458.35 L188.30,459.06 L188.40,459.76 L188.50,460.45 L188.60,461.13 L188.70,461.81 L188.80,462.47 L188.90,463.13 L189.00,463.79 L189.10,464.43 L189.20,465.07 L189.30,465.70 L189.40,466.33 L189.50,466.94 L189.60,467.55 L189.70,468.16 L189.80,468.76 L189.90,469.35 L190.00,469.93 L190.10,470.51 L190.20,471.08 L190.30,471.65 L190.40,472.21 L190.50,472.76 L190.60,473.31 L190.70,473.85 L190.80,474.39 L190.90,474.92 L191.00,475.44 L191.10,475.96 L191.20,476.48 L191.30,476.99 L191.40,477.49 L191.50,477.99 L191.60,478.48 L191.70,478.97 L191.80,479.45 L191.90,479.93 L192.00,480.41 L192.10,480.88 L192.20,481.34 L192.30,481.80 L192.40,482.26 L192.50,482.71 L192.60,483.15 L192.70,483.59 L192.80,484.03 L192.90,484.47 L193.00,484.89 L193.10,485.32 L193.20,485.74 L193.30,486.16 L193.40,486.57 L193.50,486.98 L193.60,487.38 L193.70,487.79 L193.80,488.18 L193.90,488.58 L194.00,488.97 L194.10,489.35 L194.20,489.74 L194.30,490.12 L194.40,490.49 L194.50,490.86 L194.60,491.23 L194.70,491.60 L194.80,491.96 L194.90,492.32 L195.00,492.68 L195.10,493.03 L195.20,493.38 L195.30,493.72 L195.40,494.07 L195.50,494.41 L195.60,494.74 L195.70,495.08 L195.80,495.41 L195.90,495.74 L196.00,496.06 L196.10,496.39 L196.20,496.71 L196.30,497.02 L196.40,497.34 L196.50,497.65 L196.60,497.96 L196.70,498.26 L196.80,498.57 L196.90,498.87 L197.00,499.17 L197.10,499.46 L197.20,499.76 L197.30,500.05 L197.40,500.34 L197.50,500.62 L197.60,500.91 L197.70,501.19 L197.80,501.47 L197.90,501.75 L198.00,502.02 L198.10,502.29 L198.20,502.56 L198.30,502.83 L198.40,503.10 L198.50,503.36 L198.60,503.62 L198.70,503.88 L198.80,504.14 L198.90,504.40 L199.00,504.65 L199.10,504.90 L199.20,505.15 L199.30,505.40 L199.40,505.64 L199.50,505.89 L199.60,506.13 L199.70,506.37 L199.80,506.61 L199.90,506.84 L200.00,507.08 L201.00,509.33 L202.00,511.42 L203.00,513.36 L204.00,515.17 L205.00,516.86 L206.00,518.44 L207.00,519.92 L208.00,521.32 L209.00,522.62 L210.00,523.85 L211.00,525.01 L212.00,526.11 L213.00,527.14 L214.00,528.12 L215.00,529.05 L216.00,529.93 L217.00,530.76 L218.00,531.55 L219.00,532.31 L220.00,533.02 L221.00,533.71 L222.00,534.36 L223.00,534.98 L224.00,535.57 L225.00,536.14 L226.00,536.68 L227.00,537.20 L228.00,537.70 L229.00,538.17 L230.00,538.63 L231.00,539.07 L232.00,539.49 L233.00,539.90 L234.00,540.29 L235.00,540.67 L236.00,541.03 L237.00,541.38 L238.00,541.72 L239.00,542.05 L240.00,542.36 L241.00,542.67 L242.00,542.97 L243.00,543.26 L244.00,543.54 L245.00,543.81 L246.00,544.08 L247.00,544.34 L248.00,544.59 L249.00,544.83 L250.00,545.07 L251.00,545.31 L252.00,545.54 L253.00,545.76 L254.00,545.97 L255.00,546.18 L256.00,546.39 L257.00,546.59 L258.00,546.78 L259.00,546.97 L260.00,547.16 L261.00,547.33 L262.00,547.51 L263.00,547.68 L264.00,547.84 L265.00,548.00 L266.00,548.15 L267.00,548.30 L268.00,548.45 L269.00,548.59 L270.00,548.72 L271.00,548.85 L272.00,548.98 L273.00,549.10 L274.00,549.21 L275.00,549.32 L276.00,549.43 L277.00,549.53 L278.00,549.62 L279.00,549.72 L280.00,549.80 L281.00,549.88 L282.00,549.96 L283.00,550.03 L284.00,550.09 L285.00,550.16 L286.00,550.21 L287.00,550.27 L288.00,550.32 L289.00,550.36 L290.00,550.40 L291.00,550.44 L292.00,550.47 L293.00,550.50 L294.00,550.53 L295.00,550.55 L296.00,550.57 L297.00,550.58 L298.00,550.60 L299.00,550.60 L300.00,550.61 L301.00,550.61 L302.00,550.62 L303.00,550.61 L304.00,550.61 L305.00,550.60 L306.00,550.59 L307.00,550.58 L308.00,550.56 L309.00,550.55 L310.00,550.53 L311.00,550.51 L312.00,550.48 L313.00,550.46 L314.00,550.43 L315.00,550.40 L316.00,550.37 L317.00,550.34 L318.00,550.30 L319.00,550.27 L320.00,550.23 L321.00,550.19 L322.00,550.15 L323.00,550.11 L324.00,550.07 L325.00,550.02 L326.00,549.98 L327.00,549.93 L328.00,549.88 L329.00,549.84 L330.00,549.79 L331.00,549.74 L332.00,549.69 L333.00,549.63 L334.00,549.58 L335.00,549.53 L336.00,549.48 L337.00,549.42 L338.00,549.37 L339.00,549.31 L340.00,549.26 L341.00,549.20 L342.00,549.15 L343.00,549.09 L344.00,549.03 L345.00,548.98 L346.00,548.92 L347.00,548.86 L348.00,548.81 L349.00,548.75 L350.00,548.69 L351.00,548.64 L352.00,548.58 L353.00,548.53 L354.00,548.47 L355.00,548.41 L356.00,548.36 L357.00,548.30 L358.00,548.25 L359.00,548.19 L360.00,548.14 L361.00,548.08 L362.00,548.03 L363.00,547.97 L364.00,547.92 L365.00,547.87 L366.00,547.81 L367.00,547.75 L368.00,547.70 L369.00,547.64 L370.00,547.59 L371.00,547.53 L372.00,547.48 L373.00,547.42 L374.00,547.36 L375.00,547.31 L376.00,547.25 L377.00,547.19 L378.00,547.13 L379.00,547.07 L380.00,547.01 L381.00,546.95 L382.00,546.89 L383.00,546.83 L384.00,546.77 L385.00,546.71 L386.00,546.65 L387.00,546.58 L388.00,546.52 L389.00,546.45 L390.00,546.39 L391.00,546.32 L392.00,546.25 L393.00,546.18 L394.00,546.11 L395.00,546.04 L396.00,545.97 L397.00,545.90 L398.00,545.83 L399.00,545.75 L400.00,545.68 L401.00,545.60 L402.00,545.52 L403.00,545.44 L404.00,545.36 L405.00,545.28 L406.00,545.19 L407.00,545.11 L408.00,545.02 L409.00,544.93 L410.00,544.84 L411.00,544.75 L412.00,544.66 L413.00,544.57 L414.00,544.47 L415.00,544.37 L416.00,544.28 L417.00,544.17 L418.00,544.07 L419.00,543.97 L420.00,543.86 L421.00,543.75 L422.00,543.64 L423.00,543.53 L424.00,543.42 L425.00,543.30 L426.00,543.18 L427.00,543.06 L428.00,542.94 L429.00,542.82 L430.00,542.69 L431.00,542.56 L432.00,542.43 L433.00,542.30 L434.00,542.16 L435.00,542.03 L436.00,541.89 L437.00,541.74 L438.00,541.60 L439.00,541.45 L440.00,541.30 L441.00,541.15 L442.00,540.99 L443.00,540.83 L444.00,540.67 L445.00,540.51 L446.00,540.34 L447.00,540.17 L448.00,540.00 L449.00,539.83 L450.00,539.66 L451.00,539.48 L452.00,539.30 L453.00,539.12 L454.00,538.93 L455.00,538.75 L456.00,538.56 L457.00,538.37 L458.00,538.18 L459.00,537.98 L460.00,537.79 L461.00,537.59 L462.00,537.39 L463.00,537.19 L464.00,536.99 L465.00,536.78 L466.00,536.58 L467.00,536.37 L468.00,536.16 L469.00,535.95 L470.00,535.74 L471.00,535.52 L472.00,535.31 L473.00,535.09 L474.00,534.88 L475.00,534.66 L476.00,534.44 L477.00,534.22 L478.00,534.00 L479.00,533.77 L480.00,533.55 L481.00,533.33 L482.00,533.10 L483.00,532.87 L484.00,532.65 L485.00,532.42 L486.00,532.19 L487.00,531.96 L488.00,531.73 L489.00,531.50 L490.00,531.26 L491.00,531.03 L492.00,530.79 L493.00,530.56 L494.00,530.32 L495.00,530.08 L496.00,529.84 L497.00,529.60 L498.00,529.36 L499.00,529.11 L500.00,528.87 L501.00,528.62 L502.00,528.37 L503.00,528.12 L504.00,527.87 L505.00,527.62 L506.00,527.37 L507.00,527.11 L508.00,526.85 L509.00,526.59 L510.00,526.33 L511.00,526.07 L512.00,525.81 L513.00,525.54 L514.00,525.27 L515.00,525.00 L516.00,524.73 L517.00,524.46 L518.00,524.18 L519.00,523.91 L520.00,523.63 L521.00,523.35 L522.00,523.06 L523.00,522.78 L524.00,522.49 L525.00,522.20 L526.00,521.91 L527.00,521.61 L528.00,521.32 L529.00,521.02 L530.00,520.72 L531.00,520.41 L532.00,520.11 L533.00,519.80 L534.00,519.49 L535.00,519.17 L536.00,518.86 L537.00,518.54 L538.00,518.22 L539.00,517.89 L540.00,517.57 L541.00,517.24 L542.00,516.91 L543.00,516.57 L544.00,516.23 L545.00,515.89 L546.00,515.55 L547.00,515.21 L548.00,514.86 L549.00,514.50 L550.00,514.15 L551.00,513.79 L552.00,513.43 L553.00,513.07 L554.00,512.70 L555.00,512.33 L556.00,511.96 L557.00,511.58 L558.00,511.20 L559.00,510.82 L560.00,510.43 L561.00,510.04 L562.00,509.65 L563.00,509.25 L564.00,508.85 L565.00,508.44 L566.00,508.04 L567.00,507.63 L568.00,507.21 L569.00,506.79 L570.00,506.37 L571.00,505.95 L572.00,505.52 L573.00,505.08 L574.00,504.65 L575.00,504.21 L576.00,503.76 L577.00,503.31 L578.00,502.86 L579.00,502.40 L580.00,501.94 L581.00,501.48 L582.00,501.01 L583.00,500.54 L584.00,500.06 L585.00,499.58 L586.00,499.10 L587.00,498.61 L588.00,498.11 L589.00,497.61 L590.00,497.11 L591.00,496.61 L592.00,496.09 L593.00,495.58 L594.00,495.06 L595.00,494.53 L596.00,494.01 L597.00,493.47 L598.00,492.93 L599.00,492.39 L600.00,491.84 L601.00,491.29 L602.00,490.73 L603.00,490.17 L604.00,489.60 L605.00,489.03 L606.00,488.46 L607.00,487.88 L608.00,487.29 L609.00,486.70 L610.00,486.10 L611.00,485.50 L612.00,484.89 L613.00,484.28 L614.00,483.66 L615.00,483.04 L616.00,482.41 L617.00,481.78 L618.00,481.14 L619.00,480.50 L620.00,479.85 L621.00,479.20 L622.00,478.54 L623.00,477.87 L624.00,477.20 L625.00,476.52 L626.00,475.84 L627.00,475.15 L628.00,474.45 L629.00,473.75 L630.00,473.04 L631.00,472.32 L632.00,471.59 L633.00,470.86 L634.00,470.12 L635.00,469.37 L636.00,468.62 L637.00,467.85 L638.00,467.08 L639.00,466.30 L640.00,465.51 L641.00,464.71 L642.00,463.90 L643.00,463.08 L644.00,462.26 L645.00,461.42 L646.00,460.58 L647.00,459.72 L648.00,458.85 L649.00,457.98 L650.00,457.09 L651.00,456.19 L652.00,455.29 L653.00,454.37 L654.00,453.44 L655.00,452.50 L656.00,451.54 L657.00,450.58 L658.00,449.60 L659.00,448.61 L660.00,447.61 L661.00,446.60 L662.00,445.57 L663.00,444.54 L664.00,443.49 L665.00,442.42 L666.00,441.34 L667.00,440.25 L668.00,439.15 L669.00,438.03 L670.00,436.90 L671.00,435.75 L672.00,434.59 L673.00,433.42 L674.00,432.24 L675.00,431.04 L676.00,429.83 L677.00,428.61 L678.00,427.38 L679.00,426.14 L680.00,424.89 L681.00,423.64 L682.00,422.37 L683.00,421.10 L684.00,419.83 L685.00,418.54 L686.00,417.26 L687.00,415.96 L688.00,414.67 L689.00,413.37 L690.00,412.07 L691.00,410.76 L692.00,409.46 L693.00,408.15 L694.00,406.85 L695.00,405.54 L696.00,404.24 L697.00,402.94 L698.00,401.64 L699.00,400.34 L700.00,399.05 L701.00,397.76 L702.00,396.48 L703.00,395.20 L704.00,393.93 L705.00,392.67 L706.00,391.41 L707.00,390.16 L708.00,388.92 L709.00,387.69 L710.00,386.47 L711.00,385.26 L711.00,385.26" stroke="#c8372d" stroke-width="1.7"/>
<path d="M89.00,447.25 L89.51,446.77 L90.02,446.29 L90.53,445.81 L91.04,445.33 L91.55,444.85 L92.05,444.37 L92.56,443.89 L93.07,443.41 L93.58,442.92 L94.09,442.44 L94.60,441.96 L95.11,441.48 L95.62,441.00 L96.13,440.52 L96.64,440.04 L97.14,439.56 L97.65,439.08 L98.16,438.61 L98.67,438.13 L99.18,437.65 L99.69,437.17 L100.20,436.69 L100.71,436.21 L101.22,435.73 L101.74,435.25 L102.25,434.77 L102.76,434.29 L103.27,433.82 L103.78,433.34 L104.29,432.86 L104.80,432.38 L105.31,431.90 L105.82,431.42 L106.33,430.94 L106.84,430.47 L107.35,429.99 L107.87,429.51 L108.38,429.03 L108.89,428.56 L109.40,428.08 L109.91,427.60 L110.42,427.12 L110.94,426.64 L111.45,426.17 L111.96,425.69 L112.47,425.21 L112.98,424.73 L113.49,424.26 L114.01,423.78 L114.52,423.30 L115.03,422.83 L115.54,422.35 L116.05,421.87 L116.57,421.39 L117.08,420.92 L117.59,420.44 L118.10,419.96 L118.61,419.49 L119.13,419.01 L119.64,418.53 L120.15,418.05 L120.66,417.58 L121.18,417.10 L121.69,416.62 L122.20,416.15 L122.71,415.67 L123.23,415.19 L123.74,414.72 L124.25,414.24 L124.76,413.76 L125.27,413.29 L125.79,412.81 L126.30,412.33 L126.81,411.85 L127.32,411.38 L127.84,410.90 L128.35,410.42 L128.86,409.95 L129.37,409.47 L129.89,408.99 L130.40,408.52 L130.91,408.04 L131.42,407.56 L131.93,407.08 L132.45,406.61 L132.96,406.13 L133.47,405.65 L133.98,405.18 L134.49,404.70 L135.01,404.22 L135.52,403.74 L136.03,403.27 L136.54,402.79 L137.05,402.31 L137.57,401.83 L138.08,401.36 L138.59,400.88 L139.10,400.40 L139.61,399.92 L140.12,399.45 L140.64,398.97 L141.15,398.49 L141.66,398.01 L142.17,397.54 L142.68,397.06 L143.19,396.58 L143.70,396.10 L144.22,395.62 L144.73,395.14 L145.24,394.67 L145.75,394.19 L146.26,393.71 L146.77,393.23 L147.28,392.75 L147.79,392.27 L148.30,391.79 L148.81,391.31 L149.32,390.84 L149.83,390.36 L150.34,389.88 L150.85,389.40 L151.36,388.92 L151.87,388.44 L152.38,387.96 L152.89,387.48 L153.40,387.00 L153.91,386.52 L154.42,386.04 L154.93,385.56 L155.44,385.08 L155.95,384.60 L156.46,384.12 L156.97,383.64 L157.48,383.16 L157.99,382.68 L158.50,382.20 L159.01,381.72 L159.52,381.24 L160.03,380.76 L160.53,380.28 L161.04,379.80 L161.55,379.32 L162.06,378.84 L162.57,378.37 L163.09,377.89 L163.60,377.41 L164.11,376.93 L164.62,376.45 L165.13,375.97 L165.64,375.49 L166.15,375.02 L166.66,374.54 L167.17,374.06 L167.69,373.58 L168.20,373.11 L168.71,372.63 L169.22,372.15 L169.74,371.68 L170.25,371.20 L170.76,370.73 L171.28,370.25 L171.79,369.78 L172.30,369.30 L172.82,368.83 L173.33,368.36 L173.85,367.88 L174.36,367.41 L174.88,366.94 L175.40,366.47 L175.91,365.99 L176.43,365.52 L176.95,365.05 L177.47,364.58 L177.99,364.11 L178.50,363.64 L179.02,363.17 L179.54,362.71 L180.06,362.24 L180.58,361.77 L181.11,361.31 L181.63,360.84 L182.15,360.37 L182.67,359.91 L183.20,359.45 L183.72,358.98 L184.24,358.52 L184.77,358.06 L185.30,357.59 L185.82,357.13 L186.35,356.67 L186.88,356.21 L187.40,355.75 L187.93,355.30 L188.46,354.84 L188.99,354.38 L189.52,353.93 L190.05,353.47 L190.59,353.02 L191.12,352.56 L191.65,352.11 L192.19,351.66 L192.72,351.20 L193.26,350.75 L193.79,350.30 L194.33,349.86 L194.87,349.41 L195.40,348.96 L195.94,348.51 L196.48,348.07 L197.02,347.62 L197.57,347.18 L198.11,346.74 L198.65,346.29 L199.20,345.85 L199.74,345.41 L200.29,344.97 L200.83,344.54 L201.38,344.10 L201.93,343.66 L202.48,343.23 L203.03,342.79 L203.58,342.36 L204.13,341.93 L204.69,341.50 L205.24,341.07 L205.79,340.64 L206.35,340.21 L206.91,339.78 L207.46,339.36 L208.02,338.93 L208.58,338.51 L209.14,338.09 L209.70,337.67 L210.26,337.24 L210.82,336.82 L211.39,336.41 L211.95,335.99 L212.51,335.57 L213.08,335.16 L213.64,334.74 L214.21,334.33 L214.78,333.92 L215.34,333.51 L215.91,333.10 L216.48,332.69 L217.05,332.28 L217.62,331.87 L218.19,331.47 L218.76,331.06 L219.34,330.66 L219.91,330.26 L220.48,329.85 L221.06,329.45 L221.63,329.05 L222.21,328.66 L222.78,328.26 L223.36,327.86 L223.94,327.47 L224.51,327.08 L225.09,326.68 L225.67,326.29 L226.25,325.90 L226.83,325.51 L227.41,325.12 L227.99,324.74 L228.57,324.35 L229.16,323.97 L229.74,323.58 L230.32,323.20 L230.90,322.82 L231.49,322.44 L232.07,322.06 L232.66,321.68 L233.24,321.31 L233.83,320.93 L234.41,320.56 L235.00,320.18 L235.59,319.81 L236.17,319.44 L236.76,319.07 L237.35,318.70 L237.94,318.33 L238.53,317.96 L239.12,317.59 L239.71,317.23 L240.30,316.86 L240.89,316.49 L241.48,316.13 L242.07,315.76 L242.66,315.40 L243.25,315.03 L243.84,314.66 L244.44,314.30 L245.03,313.93 L245.62,313.56 L246.22,313.20 L246.81,312.83 L247.40,312.46 L248.00,312.09 L248.59,311.72 L249.19,311.35 L249.79,310.98 L250.38,310.61 L250.98,310.24 L251.57,309.87 L252.17,309.49 L252.77,309.12 L253.37,308.74 L253.97,308.36 L254.56,307.98 L255.16,307.60 L255.76,307.22 L256.36,306.84 L256.96,306.45 L257.56,306.07 L258.16,305.69 L258.77,305.31 L259.37,304.93 L259.98,304.56 L260.58,304.19 L261.19,303.82 L261.80,303.46 L262.42,303.10 L263.03,302.75 L263.65,302.40 L264.27,302.07 L264.89,301.74 L265.51,301.41 L266.14,301.10 L266.77,300.80 L267.40,300.50 L268.04,300.22 L268.68,299.95 L269.32,299.69 L269.97,299.45 L270.62,299.21 L271.27,298.99 L271.93,298.79 L272.60,298.60 L273.26,298.42 L273.94,298.26 L274.61,298.12 L275.29,298.00 L275.98,297.89 L276.67,297.80 L277.36,297.73 L278.06,297.67 L278.76,297.63 L279.46,297.61 L280.16,297.61 L280.86,297.62 L281.56,297.65 L282.27,297.70 L282.97,297.76 L283.66,297.84 L284.36,297.93 L285.05,298.04 L285.74,298.16 L286.43,298.30 L287.11,298.45 L287.79,298.61 L288.47,298.78 L289.15,298.95 L289.83,299.12 L290.50,299.30 L291.18,299.48 L291.86,299.66 L292.54,299.83 L293.22,299.99 L293.90,300.15 L294.59,300.29 L295.27,300.43 L295.96,300.55 L296.66,300.65 L297.36,300.74 L298.06,300.81 L298.76,300.85 L299.46,300.88 L300.17,300.90 L300.87,300.89 L301.57,300.86 L302.26,300.81 L302.96,300.74 L303.65,300.66 L304.34,300.57 L305.03,300.47 L305.71,300.36 L306.40,300.24 L307.09,300.12 L307.78,300.01 L308.47,299.89 L309.16,299.78 L309.85,299.68 L310.55,299.59 L311.25,299.50 L311.95,299.44 L312.66,299.39 L313.37,299.36 L314.07,299.35 L314.78,299.36 L315.48,299.40 L316.17,299.47 L316.86,299.57 L317.55,299.70 L318.22,299.86 L318.89,300.06 L319.54,300.30 L320.19,300.58 L320.82,300.87 L321.45,301.19 L322.07,301.53 L322.68,301.88 L323.29,302.23 L323.89,302.59 L324.50,302.95 L325.10,303.30 L325.71,303.65 L326.32,303.98 L326.93,304.30 L327.56,304.61 L328.19,304.89 L328.84,305.16 L329.50,305.39 L330.18,305.59 L330.87,305.76 L331.57,305.89 L332.27,305.97 L332.98,305.99 L333.67,305.94 L334.36,305.85 L335.04,305.71 L335.72,305.53 L336.39,305.34 L337.07,305.13 L337.74,304.93 L338.42,304.74 L339.11,304.56 L339.79,304.41 L340.48,304.28 L341.18,304.18 L341.87,304.12 L342.57,304.10 L343.28,304.12 L343.98,304.19 L344.68,304.30 L345.37,304.46 L346.05,304.66 L346.71,304.90 L347.36,305.18 L347.98,305.50 L348.59,305.85 L349.19,306.20 L349.80,306.55 L350.41,306.88 L351.05,307.18 L351.71,307.42 L352.39,307.59 L353.10,307.71 L353.81,307.77 L354.52,307.76 L355.23,307.69 L355.92,307.55 L356.59,307.35 L357.22,307.08 L357.82,306.75 L358.37,306.35 L358.90,305.91 L359.40,305.42 L359.88,304.91 L360.35,304.38 L360.82,303.84 L361.30,303.30 L361.79,302.78 L362.30,302.28 L362.83,301.82 L363.40,301.40 L364.01,301.04 L364.66,300.74 L365.34,300.51 L366.03,300.36 L366.73,300.29 L367.41,300.30 L368.09,300.39 L368.76,300.55 L369.42,300.77 L370.09,301.04 L370.75,301.35 L371.43,301.66 L372.10,301.95 L372.77,302.17 L373.44,302.29 L374.10,302.31 L374.76,302.22 L375.41,302.04 L376.05,301.80 L376.69,301.49 L377.32,301.14 L377.93,300.76 L378.54,300.36 L379.14,299.96 L379.73,299.56 L380.32,299.17 L380.90,298.79 L381.49,298.42 L382.08,298.08 L382.68,297.75 L383.30,297.46 L383.93,297.20 L384.58,296.97 L385.26,296.78 L385.96,296.64 L386.68,296.54 L387.40,296.48 L388.12,296.47 L388.83,296.51 L389.52,296.58 L390.21,296.69 L390.88,296.80 L391.56,296.89 L392.24,296.94 L392.94,296.94 L393.64,296.89 L394.35,296.80 L395.07,296.69 L395.78,296.59 L396.50,296.50 L397.21,296.44 L397.92,296.42 L398.62,296.42 L399.31,296.45 L400.01,296.51 L400.69,296.59 L401.37,296.70 L402.05,296.84 L402.72,297.00 L403.39,297.18 L404.05,297.38 L404.70,297.60 L405.35,297.84 L406.00,298.11 L406.64,298.38 L407.27,298.68 L407.90,298.99 L408.52,299.32 L409.13,299.66 L409.74,300.02 L410.34,300.39 L410.94,300.77 L411.53,301.16 L412.12,301.56 L412.70,301.97 L413.27,302.38 L413.83,302.81 L414.39,303.24 L414.94,303.67 L415.49,304.11 L416.03,304.55 L416.56,305.00 L417.09,305.45 L417.61,305.90 L418.14,306.36 L418.66,306.82 L419.17,307.28 L419.69,307.74 L420.21,308.21 L420.73,308.68 L421.25,309.15 L421.77,309.62 L422.29,310.09 L422.82,310.56 L423.35,311.03 L423.89,311.49 L424.45,311.93 L425.02,312.35 L425.60,312.73 L426.21,313.07 L426.83,313.36 L427.48,313.61 L428.15,313.82 L428.83,314.00 L429.51,314.16 L430.21,314.29 L430.91,314.41 L431.62,314.50 L432.32,314.56 L433.02,314.56 L433.71,314.51 L434.39,314.39 L435.07,314.23 L435.75,314.04 L436.43,313.85 L437.12,313.69 L437.82,313.57 L438.52,313.49 L439.22,313.48 L439.91,313.53 L440.60,313.65 L441.26,313.83 L441.91,314.08 L442.53,314.39 L443.14,314.75 L443.72,315.15 L444.28,315.60 L444.81,316.07 L445.32,316.58 L445.80,317.10 L446.25,317.64 L446.68,318.20 L447.09,318.77 L447.48,319.35 L447.86,319.93 L448.24,320.52 L448.61,321.10 L448.99,321.69 L449.37,322.27 L449.77,322.84 L450.18,323.41 L450.61,323.96 L451.07,324.49 L451.56,325.01 L452.07,325.49 L452.63,325.93 L453.23,326.29 L453.87,326.56 L454.56,326.73 L455.27,326.80 L455.98,326.78 L456.68,326.67 L457.36,326.48 L458.01,326.22 L458.65,325.92 L459.26,325.58 L459.86,325.22 L460.45,324.84 L461.03,324.46 L461.61,324.07 L462.20,323.69 L462.80,323.31 L463.41,322.95 L464.03,322.61 L464.66,322.30 L465.31,322.03 L465.96,321.79 L466.62,321.59 L467.28,321.42 L467.96,321.29 L468.64,321.17 L469.33,321.07 L470.03,320.97 L470.73,320.88 L471.44,320.79 L472.15,320.70 L472.86,320.59 L473.57,320.47 L474.26,320.33 L474.95,320.16 L475.62,319.97 L476.28,319.75 L476.92,319.48 L477.53,319.18 L478.13,318.84 L478.70,318.47 L479.26,318.06 L479.80,317.63 L480.33,317.18 L480.85,316.70 L481.36,316.21 L481.86,315.71 L482.36,315.20 L482.85,314.69 L483.34,314.17 L483.83,313.66 L484.32,313.15 L484.81,312.65 L485.31,312.15 L485.81,311.66 L486.31,311.18 L486.81,310.70 L487.32,310.23 L487.83,309.76 L488.35,309.29 L488.87,308.84 L489.39,308.38 L489.92,307.93 L490.46,307.49 L491.00,307.05 L491.55,306.61 L492.11,306.18 L492.66,305.74 L493.21,305.30 L493.76,304.86 L494.29,304.40 L494.82,303.94 L495.33,303.45 L495.82,302.95 L496.29,302.44 L496.76,301.92 L497.21,301.38 L497.65,300.84 L498.09,300.29 L498.51,299.73 L498.94,299.17 L499.36,298.61 L499.78,298.05 L500.19,297.49 L500.59,296.92 L500.99,296.34 L501.37,295.76 L501.75,295.17 L502.12,294.58 L502.47,293.98 L502.82,293.37 L503.15,292.75 L503.47,292.13 L503.79,291.50 L504.09,290.87 L504.39,290.23 L504.68,289.59 L504.96,288.95 L505.24,288.30 L505.51,287.65 L505.77,287.00 L506.03,286.35 L506.28,285.69 L506.53,285.04 L506.77,284.38 L507.01,283.73 L507.25,283.07 L507.49,282.42 L507.72,281.77 L507.97,281.12 L508.22,280.48 L508.51,279.85 L508.83,279.23 L509.19,278.62 L509.61,278.02 L510.09,277.43 L510.63,276.89 L511.21,276.47 L511.80,276.27 L512.39,276.36 L512.96,276.72 L513.49,277.26 L513.98,277.91 L514.42,278.59 L514.79,279.25 L515.12,279.91 L515.40,280.56 L515.64,281.21 L515.86,281.85 L516.06,282.50 L516.25,283.15 L516.43,283.80 L516.61,284.45 L516.81,285.12 L517.01,285.79 L517.21,286.46 L517.42,287.14 L517.64,287.82 L517.85,288.50 L518.07,289.17 L518.28,289.85 L518.49,290.52 L518.70,291.18 L518.90,291.83 L519.09,292.48 L519.28,293.11 L519.45,293.74 L519.63,294.36 L519.81,294.99 L519.99,295.62 L520.18,296.25 L520.38,296.91 L520.60,297.58 L520.83,298.27 L521.09,298.99 L521.37,299.73 L521.69,300.51 L522.03,301.32 L522.41,302.10 L522.81,302.81 L523.24,303.40 L523.68,303.84 L524.15,304.06 L524.64,304.03 L525.13,303.74 L525.62,303.27 L526.10,302.65 L526.55,301.94 L526.97,301.21 L527.34,300.49 L527.66,299.78 L527.95,299.09 L528.20,298.42 L528.43,297.75 L528.63,297.10 L528.82,296.46 L528.99,295.82 L529.15,295.19 L529.32,294.56 L529.48,293.94 L529.66,293.31 L529.84,292.68 L530.05,292.06 L530.28,291.42 L530.53,290.78 L530.82,290.14 L531.15,289.48 L531.52,288.82 L531.94,288.14 L532.41,287.46 L532.92,286.86 L533.45,286.42 L533.98,286.24 L534.51,286.38 L535.01,286.80 L535.49,287.40 L535.93,288.12 L536.32,288.87 L536.65,289.61 L536.94,290.32 L537.18,291.01 L537.39,291.69 L537.57,292.36 L537.72,293.02 L537.86,293.67 L537.99,294.32 L538.11,294.98 L538.23,295.63 L538.35,296.29 L538.47,296.96 L538.60,297.63 L538.73,298.31 L538.85,298.98 L538.98,299.66 L539.11,300.35 L539.24,301.03 L539.37,301.72 L539.50,302.41 L539.63,303.10 L539.76,303.80 L539.89,304.49 L540.01,305.18 L540.14,305.88 L540.26,306.57 L540.39,307.26 L540.51,307.96 L540.63,308.65 L540.75,309.34 L540.87,310.04 L540.99,310.73 L541.11,311.43 L541.23,312.12 L541.34,312.81 L541.46,313.51 L541.58,314.20 L541.69,314.89 L541.81,315.59 L541.92,316.28 L542.04,316.97 L542.15,317.67 L542.26,318.36 L542.38,319.05 L542.49,319.74 L542.60,320.44 L542.72,321.13 L542.83,321.82 L542.94,322.51 L543.06,323.21 L543.17,323.90 L543.28,324.59 L543.40,325.28 L543.51,325.97 L543.63,326.67 L543.74,327.36 L543.86,328.05 L543.97,328.74 L544.09,329.43 L544.20,330.12 L544.32,330.81 L544.44,331.50 L544.56,332.19 L544.67,332.88 L544.79,333.57 L544.91,334.26 L545.04,334.95 L545.16,335.63 L545.28,336.32 L545.41,337.01 L545.53,337.70 L545.66,338.38 L545.79,339.07 L545.91,339.76 L546.04,340.44 L546.17,341.13 L546.31,341.81 L546.44,342.50 L546.58,343.18 L546.71,343.87 L546.85,344.55 L546.99,345.24 L547.13,345.92 L547.28,346.60 L547.42,347.28 L547.57,347.97 L547.72,348.65 L547.87,349.33 L548.02,350.01 L548.17,350.69 L548.33,351.37 L548.49,352.05 L548.65,352.73 L548.81,353.40 L548.97,354.08 L549.14,354.76 L549.31,355.44 L549.48,356.11 L549.65,356.79 L549.83,357.46 L550.01,358.14 L550.19,358.81 L550.37,359.49 L550.55,360.16 L550.74,360.84 L550.93,361.52 L551.12,362.20 L551.31,362.89 L551.49,363.58 L551.68,364.28 L551.87,364.98 L552.06,365.69 L552.28,366.38 L552.53,367.05 L552.86,367.66 L553.28,368.19 L553.82,368.63 L554.45,368.91 L555.10,368.95 L555.70,368.68 L556.23,368.19 L556.69,367.57 L557.08,366.93 L557.41,366.30 L557.71,365.68 L558.00,365.07 L558.31,364.44 L558.67,363.79 L559.10,363.13 L559.60,362.53 L560.14,362.09 L560.69,361.94 L561.25,362.13 L561.78,362.58 L562.26,363.18 L562.69,363.84 L563.05,364.50 L563.36,365.17 L563.61,365.84 L563.83,366.52 L564.00,367.19 L564.16,367.87 L564.29,368.55 L564.41,369.23 L564.53,369.92 L564.65,370.60 L564.77,371.28 L564.89,371.97 L565.01,372.65 L565.12,373.34 L565.24,374.02 L565.35,374.71 L565.47,375.40 L565.58,376.09 L565.69,376.78 L565.80,377.46 L565.92,378.15 L566.03,378.84 L566.14,379.53 L566.25,380.23 L566.35,380.92 L566.46,381.61 L566.57,382.30 L566.68,382.99 L566.78,383.69 L566.89,384.38 L566.99,385.07 L567.09,385.76 L567.20,386.46 L567.30,387.15 L567.40,387.85 L567.50,388.54 L567.60,389.23 L567.70,389.93 L567.80,390.62 L567.90,391.32 L568.00,392.01 L568.09,392.71 L568.19,393.40 L568.29,394.10 L568.38,394.79 L568.48,395.49 L568.57,396.18 L568.67,396.88 L568.76,397.57 L568.86,398.27 L568.95,398.96 L569.04,399.66 L569.14,400.35 L569.23,401.04 L569.33,401.74 L569.43,402.43 L569.52,403.12 L569.62,403.82 L569.72,404.51 L569.82,405.20 L569.92,405.90 L570.02,406.59 L570.12,407.28 L570.22,407.97 L570.33,408.66 L570.43,409.35 L570.54,410.04 L570.65,410.73 L570.76,411.42 L570.87,412.11 L570.99,412.80 L571.11,413.49 L571.22,414.18 L571.35,414.86 L571.47,415.55 L571.59,416.23 L571.72,416.92 L571.85,417.60 L571.99,418.29 L572.12,418.97 L572.26,419.65 L572.41,420.34 L572.56,421.02 L572.71,421.70 L572.87,422.39 L573.04,423.07 L573.21,423.75 L573.40,424.44 L573.59,425.12 L573.79,425.81 L574.01,426.49 L574.24,427.17 L574.51,427.83 L574.81,428.46 L575.16,429.06 L575.57,429.63 L576.04,430.14 L576.58,430.60 L577.17,431.00 L577.80,431.32 L578.47,431.57 L579.15,431.72 L579.84,431.77 L580.52,431.71 L581.19,431.55 L581.85,431.30 L582.50,431.01 L583.16,430.70 L583.83,430.42 L584.50,430.15 L585.16,429.89 L585.81,429.61 L586.42,429.30 L586.99,428.93 L587.50,428.50 L587.95,427.99 L588.36,427.42 L588.72,426.81 L589.04,426.16 L589.34,425.49 L589.63,424.82 L589.90,424.15 L590.17,423.48 L590.43,422.82 L590.68,422.17 L590.93,421.52 L591.18,420.88 L591.43,420.23 L591.67,419.59 L591.91,418.95 L592.15,418.31 L592.39,417.67 L592.63,417.03 L592.88,416.39 L593.12,415.74 L593.37,415.10 L593.63,414.44 L593.89,413.78 L594.16,413.12 L594.43,412.45 L594.72,411.77 L595.01,411.09 L595.34,410.43 L595.73,409.84 L596.20,409.33 L596.78,408.94 L597.43,408.71 L598.07,408.72 L598.59,409.01 L599.00,409.55 L599.32,410.24 L599.57,411.02 L599.79,411.81 L599.98,412.57 L600.14,413.30 L600.29,414.00 L600.42,414.68 L600.54,415.35 L600.64,416.01 L600.74,416.66 L600.84,417.31 L600.93,417.97 L601.03,418.63 L601.12,419.30 L601.21,419.98 L601.31,420.66 L601.40,421.35 L601.49,422.05 L601.58,422.75 L601.68,423.45 L601.77,424.15 L601.86,424.86 L601.94,425.56 L602.03,426.27 L602.12,426.98 L602.20,427.68 L602.28,428.39 L602.36,429.09 L602.44,429.79 L602.51,430.49 L602.59,431.19 L602.66,431.89 L602.73,432.59 L602.80,433.29 L602.87,433.98 L602.94,434.68 L603.01,435.37 L603.07,436.07 L603.14,436.76 L603.21,437.46 L603.27,438.15 L603.34,438.84 L603.40,439.54 L603.47,440.23 L603.53,440.93 L603.60,441.62 L603.67,442.32 L603.73,443.01 L603.80,443.71 L603.86,444.40 L603.93,445.10 L604.00,445.79 L604.06,446.49 L604.13,447.18 L604.20,447.88 L604.27,448.57 L604.33,449.27 L604.40,449.97 L604.47,450.66 L604.54,451.36 L604.61,452.05 L604.68,452.75 L604.75,453.45 L604.82,454.14 L604.89,454.84 L604.96,455.54 L605.03,456.23 L605.10,456.93 L605.17,457.63 L605.25,458.32 L605.32,459.02 L605.39,459.72 L605.47,460.41 L605.54,461.11 L605.62,461.81 L605.69,462.50 L605.77,463.20 L605.84,463.90 L605.92,464.59 L606.00,465.29 L606.08,465.98 L606.16,466.68 L606.24,467.38 L606.32,468.07 L606.40,468.77 L606.48,469.46 L606.56,470.16 L606.64,470.86 L606.73,471.55 L606.81,472.25 L606.89,472.94 L606.98,473.64 L607.06,474.33 L607.15,475.03 L607.24,475.72 L607.32,476.42 L607.41,477.11 L607.50,477.81 L607.59,478.50 L607.67,479.19 L607.76,479.89 L607.85,480.58 L607.94,481.28 L608.03,481.97 L608.12,482.67 L608.21,483.36 L608.29,484.05 L608.38,484.75 L608.47,485.44 L608.56,486.14 L608.65,486.83 L608.74,487.52 L608.83,488.22 L608.92,488.91 L609.01,489.61 L609.10,490.30 L609.19,490.99 L609.28,491.69 L609.36,492.38 L609.45,493.08 L609.54,493.77 L609.63,494.46 L609.71,495.16 L609.80,495.85 L609.89,496.54 L609.97,497.24 L610.06,497.93 L610.14,498.63 L610.23,499.32 L610.31,500.01 L610.40,500.71 L610.48,501.40 L610.57,502.10 L610.65,502.79 L610.74,503.49 L610.82,504.18 L610.90,504.87 L610.99,505.57 L611.08,506.26 L611.16,506.96 L611.25,507.65 L611.33,508.35 L611.42,509.04 L611.51,509.73 L611.60,510.43 L611.69,511.12 L611.78,511.82 L611.87,512.51 L611.97,513.21 L612.06,513.90 L612.16,514.60 L612.26,515.29 L612.35,515.99 L612.45,516.68 L612.56,517.38 L612.66,518.07 L612.76,518.77 L612.87,519.46 L612.98,520.16 L613.09,520.85 L613.20,521.55 L613.32,522.24 L613.47,522.92 L613.67,523.59 L613.92,524.23 L614.25,524.84 L614.67,525.41 L615.18,525.92 L615.75,526.38 L616.36,526.75 L616.99,527.04 L617.64,527.28 L618.31,527.47 L619.00,527.66 L619.69,527.88 L620.33,528.15 L620.91,528.51 L621.39,528.98 L621.81,529.54 L622.18,530.15 L622.53,530.78 L622.90,531.40 L623.29,531.99 L623.70,532.57 L624.11,533.13 L624.52,533.69 L624.91,534.26 L625.27,534.85 L625.59,535.46 L625.89,536.09 L626.17,536.73 L626.43,537.39 L626.67,538.06 L626.90,538.73 L627.11,539.42 L627.33,540.11 L627.53,540.80 L627.72,541.49 L627.91,542.18 L628.09,542.86 L628.25,543.53 L628.41,544.18 L628.56,544.82 L628.70,545.45 L628.83,546.06 L628.96,546.67 L629.08,547.28 L629.21,547.90 L629.34,548.54 L629.48,549.20 L629.63,549.90 L629.78,550.65 L629.96,551.44 L630.15,552.29 L630.37,553.20 L630.60,554.14 L630.84,555.05 L631.08,555.87 L631.33,556.55 L631.57,557.03 L631.80,557.25 L632.02,557.17 L632.22,556.79 L632.42,556.19 L632.65,555.42 L632.90,554.57 L633.21,553.70 L633.58,552.88 L634.01,552.19 L634.51,551.75 L635.06,551.66 L635.64,551.93 L636.20,552.27 L636.72,552.32 L637.17,551.98 L637.62,551.38 L638.10,550.70 L638.64,550.07 L639.23,549.60 L639.83,549.39 L640.40,549.52 L640.92,549.93 L641.42,550.53 L641.88,551.21 L642.32,551.87 L642.73,552.50 L643.11,553.10 L643.47,553.70 L643.79,554.28 L644.09,554.87 L644.35,555.47 L644.57,556.08 L644.76,556.71 L644.92,557.36 L645.05,558.02 L645.15,558.70 L645.23,559.39 L645.29,560.09 L645.32,560.80 L645.34,561.51 L645.35,562.24 L645.34,562.97 L645.32,563.71 L645.30,564.44 L645.27,565.18 L645.24,565.93 L645.20,566.67 L645.17,567.40 L645.14,568.14 L645.12,568.87 L645.10,569.59 L645.10,570.31 L645.11,571.01 L645.14,571.71 L645.19,572.40 L645.25,573.07 L645.34,573.73 L645.46,574.37 L645.60,575.00" stroke="#000" stroke-width="1.7"/>
<path d="M654.97,574.98 L655.08,574.30 L655.20,573.61 L655.31,572.93 L655.42,572.24 L655.54,571.56 L655.65,570.87 L655.77,570.18 L655.89,569.50 L656.01,568.81 L656.13,568.12 L656.25,567.44 L656.37,566.75 L656.49,566.06 L656.61,565.37 L656.74,564.69 L656.86,564.00 L656.99,563.31 L657.11,562.62 L657.24,561.93 L657.36,561.24 L657.49,560.55 L657.62,559.86 L657.74,559.18 L657.87,558.49 L657.99,557.80 L658.12,557.11 L658.25,556.42 L658.37,555.73 L658.50,555.04 L658.62,554.35 L658.75,553.66 L658.87,552.97 L659.00,552.27 L659.12,551.58 L659.24,550.89 L659.37,550.20 L659.49,549.51 L659.61,548.82 L659.73,548.13 L659.85,547.44 L659.97,546.75 L660.08,546.06 L660.20,545.37 L660.31,544.68 L660.43,543.98 L660.54,543.29 L660.65,542.60 L660.76,541.91 L660.87,541.22 L660.98,540.53 L661.08,539.84 L661.19,539.15 L661.29,538.46 L661.39,537.76 L661.49,537.07 L661.58,536.38 L661.68,535.69 L661.77,535.00 L661.86,534.31 L661.95,533.62 L662.04,532.93 L662.12,532.24 L662.20,531.55 L662.28,530.86 L662.36,530.17 L662.44,529.48 L662.51,528.79 L662.58,528.10 L662.65,527.41 L662.71,526.72 L662.77,526.03 L662.83,525.34 L662.89,524.66 L662.94,523.97 L662.99,523.28 L663.04,522.59 L663.09,521.90 L663.13,521.21 L663.17,520.52 L663.20,519.83 L663.24,519.14 L663.27,518.45 L663.31,517.75 L663.34,517.05 L663.37,516.35 L663.41,515.64 L663.44,514.93 L663.47,514.21 L663.51,513.49 L663.54,512.76 L663.58,512.02 L663.62,511.28 L663.67,510.53 L663.73,509.79 L663.84,509.07 L664.01,508.39 L664.25,507.77 L664.60,507.22 L665.07,506.76 L665.64,506.37 L666.24,506.01 L666.81,505.61 L667.28,505.13 L667.66,504.57 L667.97,503.96 L668.23,503.30 L668.46,502.62 L668.68,501.94 L668.89,501.25 L669.10,500.56 L669.31,499.88 L669.51,499.19 L669.70,498.50 L669.89,497.82 L670.07,497.14 L670.25,496.46 L670.43,495.78 L670.59,495.11 L670.76,494.44 L670.92,493.77 L671.07,493.11 L671.23,492.45 L671.38,491.79 L671.54,491.14 L671.69,490.48 L671.86,489.82 L672.02,489.16 L672.20,488.50 L672.38,487.83 L672.56,487.17 L672.76,486.49 L672.97,485.81 L673.20,485.13 L673.43,484.44 L673.69,483.74 L673.95,483.03 L674.24,482.31 L674.55,481.58 L674.88,480.87 L675.24,480.23 L675.65,479.76 L676.13,479.52 L676.67,479.58 L677.25,479.90 L677.81,480.39 L678.30,480.95 L678.71,481.54 L679.04,482.17 L679.32,482.82 L679.54,483.49 L679.72,484.17 L679.87,484.87 L680.01,485.57 L680.13,486.27 L680.26,486.97 L680.38,487.67 L680.51,488.37 L680.63,489.06 L680.76,489.75 L680.89,490.44 L681.02,491.13 L681.16,491.81 L681.29,492.50 L681.42,493.18 L681.56,493.86 L681.69,494.55 L681.83,495.23 L681.96,495.91 L682.10,496.59 L682.24,497.27 L682.38,497.95 L682.52,498.63 L682.65,499.31 L682.79,499.99 L682.94,500.67 L683.08,501.35 L683.22,502.04 L683.36,502.72 L683.50,503.41 L683.64,504.10 L683.78,504.79 L683.93,505.48 L684.07,506.18 L684.21,506.87 L684.35,507.57 L684.48,508.26 L684.62,508.96 L684.75,509.65 L684.87,510.35 L684.99,511.04 L685.11,511.73 L685.22,512.42 L685.32,513.10 L685.42,513.78 L685.50,514.46 L685.58,515.13 L685.65,515.80 L685.72,516.47 L685.79,517.13 L685.86,517.80 L685.95,518.47 L686.06,519.14 L686.19,519.82 L686.36,520.50 L686.55,521.20 L686.79,521.91 L687.07,522.63 L687.40,523.37 L687.77,524.03 L688.12,524.42 L688.43,524.37 L688.68,523.96 L688.90,523.26 L689.08,522.38 L689.22,521.40 L689.35,520.41 L689.46,519.50 L689.57,518.70 L689.66,517.98 L689.76,517.33 L689.87,516.73 L689.98,516.15 L690.11,515.57 L690.26,514.97 L690.44,514.32 L690.65,513.62 L690.89,512.83 L691.18,511.94 L691.49,511.04 L691.80,510.28 L692.08,509.82 L692.30,509.83 L692.46,510.33 L692.62,511.12 L692.83,511.99 L693.14,512.73 L693.61,513.09 L694.24,512.99 L694.90,512.59 L695.45,512.08 L695.86,511.51 L696.16,510.89 L696.35,510.22 L696.46,509.53 L696.50,508.80 L696.48,508.05 L696.44,507.30 L696.37,506.53 L696.30,505.77 L696.25,505.01 L696.23,504.27 L696.24,503.55 L696.27,502.83 L696.33,502.13 L696.40,501.44 L696.49,500.75 L696.59,500.07 L696.70,499.39 L696.82,498.72 L696.94,498.04 L697.05,497.37 L697.16,496.69 L697.27,496.01 L697.36,495.32 L697.43,494.62 L697.49,493.91 L697.53,493.19 L697.56,492.46 L697.62,491.74 L697.74,491.04 L697.95,490.37 L698.26,489.73 L698.71,489.14 L699.28,488.69 L699.84,488.56 L700.33,488.86 L700.75,489.45 L701.10,490.19 L701.41,490.93 L701.68,491.60 L701.93,492.24 L702.16,492.89 L702.40,493.57 L702.65,494.32 L702.95,495.00 L703.36,495.42 L703.92,495.40 L704.53,495.15 L705.05,495.09 L705.42,495.37 L705.67,495.92 L705.82,496.68 L705.92,497.58 L705.97,498.54 L706.01,499.51 L706.06,500.43 L706.12,501.29 L706.19,502.11 L706.27,502.88 L706.36,503.62 L706.45,504.32 L706.56,504.99 L706.66,505.64 L706.77,506.27 L706.89,506.88 L707.00,507.49 L707.12,508.08 L707.24,508.68 L707.36,509.28 L707.48,509.88 L707.59,510.50 L707.70,511.14 L707.81,511.78 L707.92,512.43 L708.03,513.10 L708.13,513.77 L708.24,514.46 L708.34,515.15 L708.44,515.85 L708.54,516.55 L708.65,517.26 L708.75,517.97 L708.85,518.69 L708.95,519.41 L709.05,520.13 L709.16,520.86 L709.26,521.58 L709.37,522.30 L709.48,523.02 L709.59,523.74 L709.70,524.46 L709.82,525.17 L709.93,525.87 L710.05,526.57 L710.18,527.27 L710.31,527.96 L710.44,528.63 L710.57,529.30 L710.71,529.96 L710.85,530.61 L711.00,531.25" stroke="#000" stroke-width="1.7"/>
</g>
<rect x="92.3" y="200.5" width="163.3" height="57.8" fill="#fff" stroke="#505050" stroke-width="1"/>
<line x1="98.5" y1="212.1" x2="134" y2="212.1" stroke="#c8372d" stroke-width="1.7"/>
<line x1="98.5" y1="230" x2="134" y2="230" stroke="#000" stroke-width="1.7"/>
<line x1="98" y1="247.9" x2="135" y2="247.9" stroke="#000" stroke-width="1.75" stroke-dasharray="2.5 2 7.5 2.5 7.5 2.5 7.5 2.5 2.5 2"/>
<g font-size="14.7">
<text x="146.3" y="217.5">Impedance</text>
<text x="146.3" y="235.1">on axis</text>
<text x="146.3" y="252.7">45° off axis</text>
</g>
<g font-size="13.3">
<g text-anchor="end">
<text x="80.2" y="570.75">55</text>
<text x="80.2" y="533.84">60</text>
<text x="80.2" y="496.93">65</text>
<text x="80.2" y="460.02">70</text>
<text x="80.2" y="423.11">75</text>
<text x="80.2" y="386.20">80</text>
<text x="80.2" y="349.29">85</text>
<text x="80.2" y="312.38">90</text>
<text x="80.2" y="275.47">95</text>
<text x="80.2" y="238.56">100</text>
<text x="80.2" y="201.65">105</text>
</g><g text-anchor="start">
<text x="719.8" y="570.65">0</text>
<text x="719.8" y="478.38">50</text>
<text x="719.8" y="386.10">100</text>
<text x="719.8" y="293.82">150</text>
<text x="719.8" y="201.55">200</text>
</g><g text-anchor="middle">
<text x="89.00" y="584.8">20</text>
<text x="233.92" y="584.8">100</text>
<text x="378.84" y="584.8">500</text>
<text x="441.25" y="584.8">1000</text>
<text x="648.59" y="584.8">10000</text>
<text x="711.00" y="584.8">20000</text>
</g></g>
<g font-size="17.7" text-anchor="middle">
<text x="399.8" y="609.2">Frequency (Hz)</text>
<text transform="translate(23.1,380.5) rotate(-90)">SPL (dB) @ 2.83V, 1m, half space</text>
<text transform="translate(755.6,381.3) rotate(90)">Impedance (Ohm)</text>
</g>
</svg></body></html>
